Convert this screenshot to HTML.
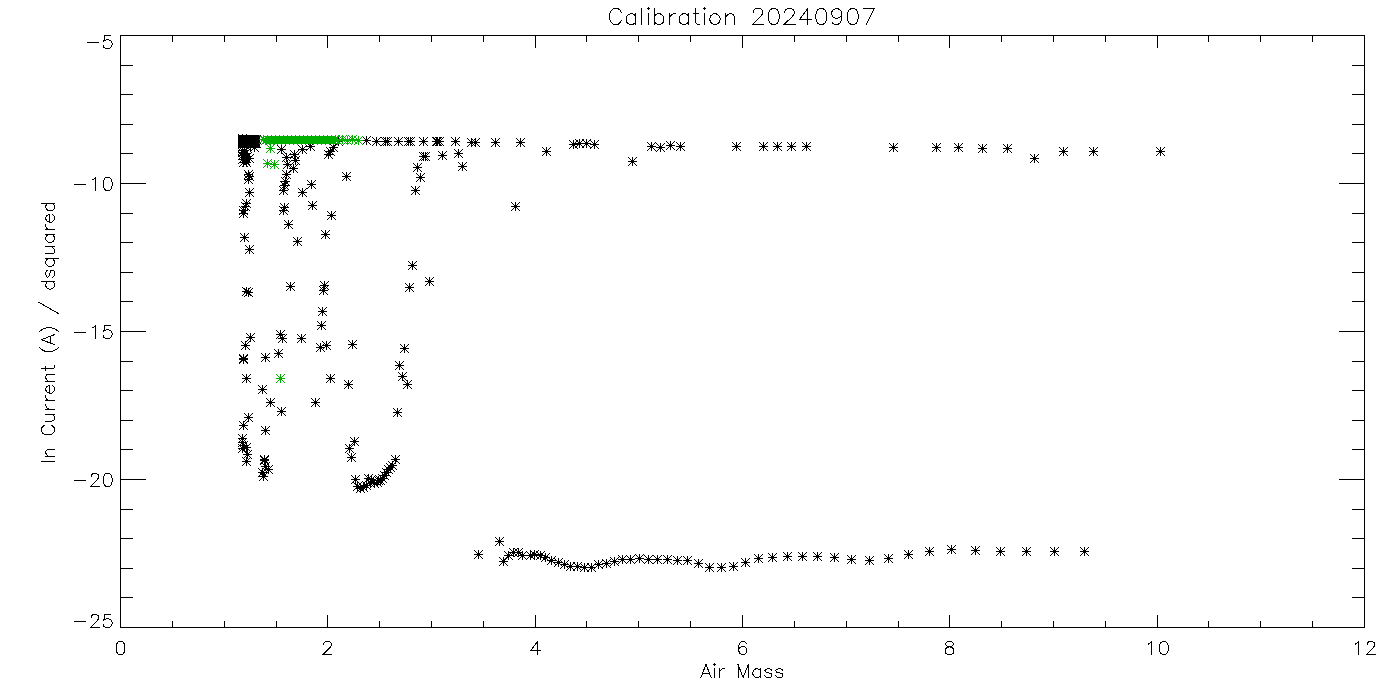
<!DOCTYPE html><html><head><meta charset="utf-8"><style>html,body{margin:0;padding:0;background:#fff;}svg{display:block;}</style></head><body>
<svg width="1400" height="700" viewBox="0 0 1400 700">
<rect width="1400" height="700" fill="#fff"/>
<path d="M120.5 35.5 H1364.5 V627.5 H120.5 Z M120.5 627.5 v-13 M120.5 35.5 v12 M172.5 627.5 v-7 M172.5 35.5 v6 M224.5 627.5 v-7 M224.5 35.5 v6 M276.5 627.5 v-7 M276.5 35.5 v6 M327.5 627.5 v-13 M327.5 35.5 v12 M379.5 627.5 v-7 M379.5 35.5 v6 M431.5 627.5 v-7 M431.5 35.5 v6 M483.5 627.5 v-7 M483.5 35.5 v6 M535.5 627.5 v-13 M535.5 35.5 v12 M586.5 627.5 v-7 M586.5 35.5 v6 M638.5 627.5 v-7 M638.5 35.5 v6 M690.5 627.5 v-7 M690.5 35.5 v6 M742.5 627.5 v-13 M742.5 35.5 v12 M794.5 627.5 v-7 M794.5 35.5 v6 M846.5 627.5 v-7 M846.5 35.5 v6 M898.5 627.5 v-7 M898.5 35.5 v6 M949.5 627.5 v-13 M949.5 35.5 v12 M1001.5 627.5 v-7 M1001.5 35.5 v6 M1053.5 627.5 v-7 M1053.5 35.5 v6 M1105.5 627.5 v-7 M1105.5 35.5 v6 M1157.5 627.5 v-13 M1157.5 35.5 v12 M1208.5 627.5 v-7 M1208.5 35.5 v6 M1260.5 627.5 v-7 M1260.5 35.5 v6 M1312.5 627.5 v-7 M1312.5 35.5 v6 M1364.5 627.5 v-13 M1364.5 35.5 v12 M120.5 627.5 h25 M1364.5 627.5 h-26 M120.5 597.5 h12 M1364.5 597.5 h-13 M120.5 568.5 h12 M1364.5 568.5 h-13 M120.5 538.5 h12 M1364.5 538.5 h-13 M120.5 509.5 h12 M1364.5 509.5 h-13 M120.5 479.5 h25 M1364.5 479.5 h-26 M120.5 449.5 h12 M1364.5 449.5 h-13 M120.5 420.5 h12 M1364.5 420.5 h-13 M120.5 390.5 h12 M1364.5 390.5 h-13 M120.5 361.5 h12 M1364.5 361.5 h-13 M120.5 331.5 h25 M1364.5 331.5 h-26 M120.5 301.5 h12 M1364.5 301.5 h-13 M120.5 272.5 h12 M1364.5 272.5 h-13 M120.5 242.5 h12 M1364.5 242.5 h-13 M120.5 213.5 h12 M1364.5 213.5 h-13 M120.5 183.5 h25 M1364.5 183.5 h-26 M120.5 153.5 h12 M1364.5 153.5 h-13 M120.5 124.5 h12 M1364.5 124.5 h-13 M120.5 94.5 h12 M1364.5 94.5 h-13 M120.5 65.5 h12 M1364.5 65.5 h-13 M120.5 35.5 h25 M1364.5 35.5 h-26" stroke="#000" stroke-width="1" fill="none" shape-rendering="crispEdges"/>
<path d="M119.86 641.48 L117.94 642.10 L116.66 643.96 L116.02 647.06 L116.02 648.92 L116.66 652.02 L117.94 653.88 L119.86 654.50 L121.14 654.50 L123.06 653.88 L124.34 652.02 L124.98 648.92 L124.98 647.06 L124.34 643.96 L123.06 642.10 L121.14 641.48 L119.86 641.48 M323.66 644.58 L323.66 643.96 L324.30 642.72 L324.94 642.10 L326.22 641.48 L328.78 641.48 L330.06 642.10 L330.70 642.72 L331.34 643.96 L331.34 645.20 L330.70 646.44 L329.42 648.30 L323.02 654.50 L331.98 654.50 M537.42 641.48 L531.02 650.16 L540.62 650.16 M537.42 641.48 L537.42 654.50 M746.34 643.34 L745.70 642.10 L743.78 641.48 L742.50 641.48 L740.58 642.10 L739.30 643.96 L738.66 647.06 L738.66 650.16 L739.30 652.64 L740.58 653.88 L742.50 654.50 L743.14 654.50 L745.06 653.88 L746.34 652.64 L746.98 650.78 L746.98 650.16 L746.34 648.30 L745.06 647.06 L743.14 646.44 L742.50 646.44 L740.58 647.06 L739.30 648.30 L738.66 650.16 M948.22 641.48 L946.30 642.10 L945.66 643.34 L945.66 644.58 L946.30 645.82 L947.58 646.44 L950.14 647.06 L952.06 647.68 L953.34 648.92 L953.98 650.16 L953.98 652.02 L953.34 653.26 L952.70 653.88 L950.78 654.50 L948.22 654.50 L946.30 653.88 L945.66 653.26 L945.02 652.02 L945.02 650.16 L945.66 648.92 L946.94 647.68 L948.86 647.06 L951.42 646.44 L952.70 645.82 L953.34 644.58 L953.34 643.34 L952.70 642.10 L950.78 641.48 L948.22 641.48 M1148.54 643.96 L1149.82 643.34 L1151.74 641.48 L1151.74 654.50 M1163.26 641.48 L1161.34 642.10 L1160.06 643.96 L1159.42 647.06 L1159.42 648.92 L1160.06 652.02 L1161.34 653.88 L1163.26 654.50 L1164.54 654.50 L1166.46 653.88 L1167.74 652.02 L1168.38 648.92 L1168.38 647.06 L1167.74 643.96 L1166.46 642.10 L1164.54 641.48 L1163.26 641.48 M1355.54 643.96 L1356.82 643.34 L1358.74 641.48 L1358.74 654.50 M1367.06 644.58 L1367.06 643.96 L1367.70 642.72 L1368.34 642.10 L1369.62 641.48 L1372.18 641.48 L1373.46 642.10 L1374.10 642.72 L1374.74 643.96 L1374.74 645.20 L1374.10 646.44 L1372.82 648.30 L1366.42 654.50 L1375.38 654.50 M74.42 621.92 L85.94 621.92 M91.06 617.58 L91.06 616.96 L91.70 615.72 L92.34 615.10 L93.62 614.48 L96.18 614.48 L97.46 615.10 L98.10 615.72 L98.74 616.96 L98.74 618.20 L98.10 619.44 L96.82 621.30 L90.42 627.50 L99.38 627.50 M110.90 614.48 L104.50 614.48 L103.86 620.06 L104.50 619.44 L106.42 618.82 L108.34 618.82 L110.26 619.44 L111.54 620.68 L112.18 622.54 L112.18 623.78 L111.54 625.64 L110.26 626.88 L108.34 627.50 L106.42 627.50 L104.50 626.88 L103.86 626.26 L103.22 625.02 M74.42 480.92 L85.94 480.92 M91.06 476.58 L91.06 475.96 L91.70 474.72 L92.34 474.10 L93.62 473.48 L96.18 473.48 L97.46 474.10 L98.10 474.72 L98.74 475.96 L98.74 477.20 L98.10 478.44 L96.82 480.30 L90.42 486.50 L99.38 486.50 M107.06 473.48 L105.14 474.10 L103.86 475.96 L103.22 479.06 L103.22 480.92 L103.86 484.02 L105.14 485.88 L107.06 486.50 L108.34 486.50 L110.26 485.88 L111.54 484.02 L112.18 480.92 L112.18 479.06 L111.54 475.96 L110.26 474.10 L108.34 473.48 L107.06 473.48 M74.42 332.92 L85.94 332.92 M92.34 327.96 L93.62 327.34 L95.54 325.48 L95.54 338.50 M110.90 325.48 L104.50 325.48 L103.86 331.06 L104.50 330.44 L106.42 329.82 L108.34 329.82 L110.26 330.44 L111.54 331.68 L112.18 333.54 L112.18 334.78 L111.54 336.64 L110.26 337.88 L108.34 338.50 L106.42 338.50 L104.50 337.88 L103.86 337.26 L103.22 336.02 M74.42 184.92 L85.94 184.92 M92.34 179.96 L93.62 179.34 L95.54 177.48 L95.54 190.50 M107.06 177.48 L105.14 178.10 L103.86 179.96 L103.22 183.06 L103.22 184.92 L103.86 188.02 L105.14 189.88 L107.06 190.50 L108.34 190.50 L110.26 189.88 L111.54 188.02 L112.18 184.92 L112.18 183.06 L111.54 179.96 L110.26 178.10 L108.34 177.48 L107.06 177.48 M87.22 42.92 L98.74 42.92 M110.90 35.48 L104.50 35.48 L103.86 41.06 L104.50 40.44 L106.42 39.82 L108.34 39.82 L110.26 40.44 L111.54 41.68 L112.18 43.54 L112.18 44.78 L111.54 46.64 L110.26 47.88 L108.34 48.50 L106.42 48.50 L104.50 47.88 L103.86 47.26 L103.22 46.02 M621.32 12.31 L620.53 10.78 L618.95 9.26 L617.38 8.50 L614.21 8.50 L612.63 9.26 L611.05 10.78 L610.26 12.31 L609.47 14.59 L609.47 18.40 L610.26 20.69 L611.05 22.21 L612.63 23.74 L614.21 24.50 L617.38 24.50 L618.95 23.74 L620.53 22.21 L621.32 20.69 M635.54 13.83 L635.54 24.50 M635.54 16.12 L633.96 14.59 L632.38 13.83 L630.01 13.83 L628.43 14.59 L626.85 16.12 L626.06 18.40 L626.06 19.93 L626.85 22.21 L628.43 23.74 L630.01 24.50 L632.38 24.50 L633.96 23.74 L635.54 22.21 M641.87 8.50 L641.87 24.50 M647.39 8.50 L648.18 9.26 L648.97 8.50 L648.18 7.74 L647.39 8.50 M648.18 13.83 L648.18 24.50 M654.50 8.50 L654.50 24.50 M654.50 16.12 L656.08 14.59 L657.66 13.83 L660.03 13.83 L661.62 14.59 L663.19 16.12 L663.98 18.40 L663.98 19.93 L663.19 22.21 L661.62 23.74 L660.03 24.50 L657.66 24.50 L656.08 23.74 L654.50 22.21 M669.51 13.83 L669.51 24.50 M669.51 18.40 L670.30 16.12 L671.88 14.59 L673.46 13.83 L675.83 13.83 M688.47 13.83 L688.47 24.50 M688.47 16.12 L686.89 14.59 L685.31 13.83 L682.94 13.83 L681.37 14.59 L679.78 16.12 L679.00 18.40 L679.00 19.93 L679.78 22.21 L681.37 23.74 L682.94 24.50 L685.31 24.50 L686.89 23.74 L688.47 22.21 M695.58 8.50 L695.58 21.45 L696.38 23.74 L697.95 24.50 L699.53 24.50 M693.21 13.83 L698.75 13.83 M703.48 8.50 L704.27 9.26 L705.06 8.50 L704.27 7.74 L703.48 8.50 M704.27 13.83 L704.27 24.50 M713.75 13.83 L712.17 14.59 L710.59 16.12 L709.80 18.40 L709.80 19.93 L710.59 22.21 L712.17 23.74 L713.75 24.50 L716.12 24.50 L717.70 23.74 L719.28 22.21 L720.07 19.93 L720.07 18.40 L719.28 16.12 L717.70 14.59 L716.12 13.83 L713.75 13.83 M725.60 13.83 L725.60 24.50 M725.60 16.88 L727.97 14.59 L729.55 13.83 L731.92 13.83 L733.50 14.59 L734.29 16.88 L734.29 24.50 M753.25 12.31 L753.25 11.55 L754.04 10.02 L754.83 9.26 L756.41 8.50 L759.57 8.50 L761.15 9.26 L761.94 10.02 L762.73 11.55 L762.73 13.07 L761.94 14.59 L760.37 16.88 L752.46 24.50 L763.52 24.50 M773.00 8.50 L770.63 9.26 L769.05 11.55 L768.26 15.36 L768.26 17.64 L769.05 21.45 L770.63 23.74 L773.00 24.50 L774.58 24.50 L776.95 23.74 L778.53 21.45 L779.32 17.64 L779.32 15.36 L778.53 11.55 L776.95 9.26 L774.58 8.50 L773.00 8.50 M784.85 12.31 L784.85 11.55 L785.64 10.02 L786.43 9.26 L788.01 8.50 L791.17 8.50 L792.75 9.26 L793.54 10.02 L794.33 11.55 L794.33 13.07 L793.54 14.59 L791.96 16.88 L784.06 24.50 L795.12 24.50 M807.76 8.50 L799.87 19.17 L811.71 19.17 M807.76 8.50 L807.76 24.50 M820.40 8.50 L818.03 9.26 L816.45 11.55 L815.66 15.36 L815.66 17.64 L816.45 21.45 L818.03 23.74 L820.40 24.50 L821.98 24.50 L824.36 23.74 L825.93 21.45 L826.72 17.64 L826.72 15.36 L825.93 11.55 L824.36 9.26 L821.98 8.50 L820.40 8.50 M841.73 13.83 L840.94 16.12 L839.37 17.64 L837.00 18.40 L836.20 18.40 L833.83 17.64 L832.25 16.12 L831.46 13.83 L831.46 13.07 L832.25 10.78 L833.83 9.26 L836.20 8.50 L837.00 8.50 L839.37 9.26 L840.94 10.78 L841.73 13.83 L841.73 17.64 L840.94 21.45 L839.37 23.74 L837.00 24.50 L835.41 24.50 L833.04 23.74 L832.25 22.21 M852.00 8.50 L849.63 9.26 L848.05 11.55 L847.26 15.36 L847.26 17.64 L848.05 21.45 L849.63 23.74 L852.00 24.50 L853.58 24.50 L855.95 23.74 L857.53 21.45 L858.32 17.64 L858.32 15.36 L857.53 11.55 L855.95 9.26 L853.58 8.50 L852.00 8.50 M874.12 8.50 L866.22 24.50 M863.06 8.50 L874.12 8.50 M706.02 664.48 L700.90 677.50 M706.02 664.48 L711.14 677.50 M702.82 673.16 L709.22 673.16 M713.70 664.48 L714.34 665.10 L714.98 664.48 L714.34 663.86 L713.70 664.48 M714.34 668.82 L714.34 677.50 M719.46 668.82 L719.46 677.50 M719.46 672.54 L720.10 670.68 L721.38 669.44 L722.66 668.82 L724.58 668.82 M738.02 664.48 L738.02 677.50 M738.02 664.48 L743.14 677.50 M748.26 664.48 L743.14 677.50 M748.26 664.48 L748.26 677.50 M760.42 668.82 L760.42 677.50 M760.42 670.68 L759.14 669.44 L757.86 668.82 L755.94 668.82 L754.66 669.44 L753.38 670.68 L752.74 672.54 L752.74 673.78 L753.38 675.64 L754.66 676.88 L755.94 677.50 L757.86 677.50 L759.14 676.88 L760.42 675.64 M771.94 670.68 L771.30 669.44 L769.38 668.82 L767.46 668.82 L765.54 669.44 L764.90 670.68 L765.54 671.92 L766.82 672.54 L770.02 673.16 L771.30 673.78 L771.94 675.02 L771.94 675.64 L771.30 676.88 L769.38 677.50 L767.46 677.50 L765.54 676.88 L764.90 675.64 M782.82 670.68 L782.18 669.44 L780.26 668.82 L778.34 668.82 L776.42 669.44 L775.78 670.68 L776.42 671.92 L777.70 672.54 L780.90 673.16 L782.18 673.78 L782.82 675.02 L782.82 675.64 L782.18 676.88 L780.26 677.50 L778.34 677.50 L776.42 676.88 L775.78 675.64 M41.48 461.44 L54.50 461.44 M45.82 456.39 L54.50 456.39 M48.30 456.39 L46.44 454.50 L45.82 453.24 L45.82 451.34 L46.44 450.08 L48.30 449.45 L54.50 449.45 M44.58 425.47 L43.34 426.10 L42.10 427.37 L41.48 428.63 L41.48 431.15 L42.10 432.41 L43.34 433.68 L44.58 434.31 L46.44 434.94 L49.54 434.94 L51.40 434.31 L52.64 433.68 L53.88 432.41 L54.50 431.15 L54.50 428.63 L53.88 427.37 L52.64 426.10 L51.40 425.47 M45.82 421.06 L52.02 421.06 L53.88 420.42 L54.50 419.16 L54.50 417.27 L53.88 416.01 L52.02 414.11 M45.82 414.11 L54.50 414.11 M45.82 409.07 L54.50 409.07 M49.54 409.07 L47.68 408.44 L46.44 407.17 L45.82 405.91 L45.82 404.02 M45.82 400.86 L54.50 400.86 M49.54 400.86 L47.68 400.23 L46.44 398.97 L45.82 397.71 L45.82 395.82 M49.54 393.29 L49.54 385.72 L48.30 385.72 L47.06 386.35 L46.44 386.98 L45.82 388.24 L45.82 390.14 L46.44 391.40 L47.68 392.66 L49.54 393.29 L50.78 393.29 L52.64 392.66 L53.88 391.40 L54.50 390.14 L54.50 388.24 L53.88 386.98 L52.64 385.72 M45.82 381.30 L54.50 381.30 M48.30 381.30 L46.44 379.41 L45.82 378.15 L45.82 376.25 L46.44 374.99 L48.30 374.36 L54.50 374.36 M41.48 368.68 L52.02 368.68 L53.88 368.05 L54.50 366.79 L54.50 365.53 M45.82 370.58 L45.82 366.16 M39.00 347.23 L40.24 348.49 L42.10 349.75 L44.58 351.01 L47.68 351.65 L50.16 351.65 L53.26 351.01 L55.74 349.75 L57.60 348.49 L58.84 347.23 M41.48 339.66 L54.50 344.70 M41.48 339.66 L54.50 334.61 M50.16 342.81 L50.16 336.50 M39.00 332.08 L40.24 330.82 L42.10 329.56 L44.58 328.30 L47.68 327.67 L50.16 327.67 L53.26 328.30 L55.74 329.56 L57.60 330.82 L58.84 332.08 M39.00 302.43 L58.84 313.79 M41.48 281.60 L54.50 281.60 M47.68 281.60 L46.44 282.87 L45.82 284.13 L45.82 286.02 L46.44 287.28 L47.68 288.55 L49.54 289.18 L50.78 289.18 L52.64 288.55 L53.88 287.28 L54.50 286.02 L54.50 284.13 L53.88 282.87 L52.64 281.60 M47.68 270.25 L46.44 270.88 L45.82 272.77 L45.82 274.66 L46.44 276.56 L47.68 277.19 L48.92 276.56 L49.54 275.29 L50.16 272.14 L50.78 270.88 L52.02 270.25 L52.64 270.25 L53.88 270.88 L54.50 272.77 L54.50 274.66 L53.88 276.56 L52.64 277.19 M45.82 258.89 L58.84 258.89 M47.68 258.89 L46.44 260.15 L45.82 261.41 L45.82 263.31 L46.44 264.57 L47.68 265.83 L49.54 266.46 L50.78 266.46 L52.64 265.83 L53.88 264.57 L54.50 263.31 L54.50 261.41 L53.88 260.15 L52.64 258.89 M45.82 253.84 L52.02 253.84 L53.88 253.21 L54.50 251.95 L54.50 250.05 L53.88 248.79 L52.02 246.90 M45.82 246.90 L54.50 246.90 M45.82 234.91 L54.50 234.91 M47.68 234.91 L46.44 236.17 L45.82 237.43 L45.82 239.33 L46.44 240.59 L47.68 241.85 L49.54 242.48 L50.78 242.48 L52.64 241.85 L53.88 240.59 L54.50 239.33 L54.50 237.43 L53.88 236.17 L52.64 234.91 M45.82 229.86 L54.50 229.86 M49.54 229.86 L47.68 229.23 L46.44 227.97 L45.82 226.71 L45.82 224.81 M49.54 222.29 L49.54 214.72 L48.30 214.72 L47.06 215.35 L46.44 215.98 L45.82 217.24 L45.82 219.14 L46.44 220.40 L47.68 221.66 L49.54 222.29 L50.78 222.29 L52.64 221.66 L53.88 220.40 L54.50 219.14 L54.50 217.24 L53.88 215.98 L52.64 214.72 M41.48 203.36 L54.50 203.36 M47.68 203.36 L46.44 204.62 L45.82 205.88 L45.82 207.78 L46.44 209.04 L47.68 210.30 L49.54 210.93 L50.78 210.93 L52.64 210.30 L53.88 209.04 L54.50 207.78 L54.50 205.88 L53.88 204.62 L52.64 203.36" stroke="#000" stroke-width="1" fill="none" stroke-linecap="square" shape-rendering="crispEdges"/>
<rect x="238" y="135" width="22" height="13" fill="#000"/>
<path d="M787 146h9v1h-9zM791 142h1v9h-1zM787 142h1v1h-1zM787 150h1v1h-1zM788 143h1v1h-1zM788 149h1v1h-1zM789 144h1v1h-1zM789 148h1v1h-1zM790 145h1v1h-1zM790 147h1v1h-1zM792 147h1v1h-1zM792 145h1v1h-1zM793 148h1v1h-1zM793 144h1v1h-1zM794 149h1v1h-1zM794 143h1v1h-1zM795 150h1v1h-1zM795 142h1v1h-1zM802 146h9v1h-9zM806 142h1v9h-1zM802 142h1v1h-1zM802 150h1v1h-1zM803 143h1v1h-1zM803 149h1v1h-1zM804 144h1v1h-1zM804 148h1v1h-1zM805 145h1v1h-1zM805 147h1v1h-1zM807 147h1v1h-1zM807 145h1v1h-1zM808 148h1v1h-1zM808 144h1v1h-1zM809 149h1v1h-1zM809 143h1v1h-1zM810 150h1v1h-1zM810 142h1v1h-1zM889 147h9v1h-9zM893 143h1v9h-1zM889 143h1v1h-1zM889 151h1v1h-1zM890 144h1v1h-1zM890 150h1v1h-1zM891 145h1v1h-1zM891 149h1v1h-1zM892 146h1v1h-1zM892 148h1v1h-1zM894 148h1v1h-1zM894 146h1v1h-1zM895 149h1v1h-1zM895 145h1v1h-1zM896 150h1v1h-1zM896 144h1v1h-1zM897 151h1v1h-1zM897 143h1v1h-1zM932 147h9v1h-9zM936 143h1v9h-1zM932 143h1v1h-1zM932 151h1v1h-1zM933 144h1v1h-1zM933 150h1v1h-1zM934 145h1v1h-1zM934 149h1v1h-1zM935 146h1v1h-1zM935 148h1v1h-1zM937 148h1v1h-1zM937 146h1v1h-1zM938 149h1v1h-1zM938 145h1v1h-1zM939 150h1v1h-1zM939 144h1v1h-1zM940 151h1v1h-1zM940 143h1v1h-1zM954 147h9v1h-9zM958 143h1v9h-1zM954 143h1v1h-1zM954 151h1v1h-1zM955 144h1v1h-1zM955 150h1v1h-1zM956 145h1v1h-1zM956 149h1v1h-1zM957 146h1v1h-1zM957 148h1v1h-1zM959 148h1v1h-1zM959 146h1v1h-1zM960 149h1v1h-1zM960 145h1v1h-1zM961 150h1v1h-1zM961 144h1v1h-1zM962 151h1v1h-1zM962 143h1v1h-1zM978 148h9v1h-9zM982 144h1v9h-1zM978 144h1v1h-1zM978 152h1v1h-1zM979 145h1v1h-1zM979 151h1v1h-1zM980 146h1v1h-1zM980 150h1v1h-1zM981 147h1v1h-1zM981 149h1v1h-1zM983 149h1v1h-1zM983 147h1v1h-1zM984 150h1v1h-1zM984 146h1v1h-1zM985 151h1v1h-1zM985 145h1v1h-1zM986 152h1v1h-1zM986 144h1v1h-1zM1003 148h9v1h-9zM1007 144h1v9h-1zM1003 144h1v1h-1zM1003 152h1v1h-1zM1004 145h1v1h-1zM1004 151h1v1h-1zM1005 146h1v1h-1zM1005 150h1v1h-1zM1006 147h1v1h-1zM1006 149h1v1h-1zM1008 149h1v1h-1zM1008 147h1v1h-1zM1009 150h1v1h-1zM1009 146h1v1h-1zM1010 151h1v1h-1zM1010 145h1v1h-1zM1011 152h1v1h-1zM1011 144h1v1h-1zM1030 158h9v1h-9zM1034 154h1v9h-1zM1030 154h1v1h-1zM1030 162h1v1h-1zM1031 155h1v1h-1zM1031 161h1v1h-1zM1032 156h1v1h-1zM1032 160h1v1h-1zM1033 157h1v1h-1zM1033 159h1v1h-1zM1035 159h1v1h-1zM1035 157h1v1h-1zM1036 160h1v1h-1zM1036 156h1v1h-1zM1037 161h1v1h-1zM1037 155h1v1h-1zM1038 162h1v1h-1zM1038 154h1v1h-1zM1059 151h9v1h-9zM1063 147h1v9h-1zM1059 147h1v1h-1zM1059 155h1v1h-1zM1060 148h1v1h-1zM1060 154h1v1h-1zM1061 149h1v1h-1zM1061 153h1v1h-1zM1062 150h1v1h-1zM1062 152h1v1h-1zM1064 152h1v1h-1zM1064 150h1v1h-1zM1065 153h1v1h-1zM1065 149h1v1h-1zM1066 154h1v1h-1zM1066 148h1v1h-1zM1067 155h1v1h-1zM1067 147h1v1h-1zM1089 151h9v1h-9zM1093 147h1v9h-1zM1089 147h1v1h-1zM1089 155h1v1h-1zM1090 148h1v1h-1zM1090 154h1v1h-1zM1091 149h1v1h-1zM1091 153h1v1h-1zM1092 150h1v1h-1zM1092 152h1v1h-1zM1094 152h1v1h-1zM1094 150h1v1h-1zM1095 153h1v1h-1zM1095 149h1v1h-1zM1096 154h1v1h-1zM1096 148h1v1h-1zM1097 155h1v1h-1zM1097 147h1v1h-1zM1156 151h9v1h-9zM1160 147h1v9h-1zM1156 147h1v1h-1zM1156 155h1v1h-1zM1157 148h1v1h-1zM1157 154h1v1h-1zM1158 149h1v1h-1zM1158 153h1v1h-1zM1159 150h1v1h-1zM1159 152h1v1h-1zM1161 152h1v1h-1zM1161 150h1v1h-1zM1162 153h1v1h-1zM1162 149h1v1h-1zM1163 154h1v1h-1zM1163 148h1v1h-1zM1164 155h1v1h-1zM1164 147h1v1h-1zM628 161h9v1h-9zM632 157h1v9h-1zM628 157h1v1h-1zM628 165h1v1h-1zM629 158h1v1h-1zM629 164h1v1h-1zM630 159h1v1h-1zM630 163h1v1h-1zM631 160h1v1h-1zM631 162h1v1h-1zM633 162h1v1h-1zM633 160h1v1h-1zM634 163h1v1h-1zM634 159h1v1h-1zM635 164h1v1h-1zM635 158h1v1h-1zM636 165h1v1h-1zM636 157h1v1h-1zM647 146h9v1h-9zM651 142h1v9h-1zM647 142h1v1h-1zM647 150h1v1h-1zM648 143h1v1h-1zM648 149h1v1h-1zM649 144h1v1h-1zM649 148h1v1h-1zM650 145h1v1h-1zM650 147h1v1h-1zM652 147h1v1h-1zM652 145h1v1h-1zM653 148h1v1h-1zM653 144h1v1h-1zM654 149h1v1h-1zM654 143h1v1h-1zM655 150h1v1h-1zM655 142h1v1h-1zM656 147h9v1h-9zM660 143h1v9h-1zM656 143h1v1h-1zM656 151h1v1h-1zM657 144h1v1h-1zM657 150h1v1h-1zM658 145h1v1h-1zM658 149h1v1h-1zM659 146h1v1h-1zM659 148h1v1h-1zM661 148h1v1h-1zM661 146h1v1h-1zM662 149h1v1h-1zM662 145h1v1h-1zM663 150h1v1h-1zM663 144h1v1h-1zM664 151h1v1h-1zM664 143h1v1h-1zM666 145h9v1h-9zM670 141h1v9h-1zM666 141h1v1h-1zM666 149h1v1h-1zM667 142h1v1h-1zM667 148h1v1h-1zM668 143h1v1h-1zM668 147h1v1h-1zM669 144h1v1h-1zM669 146h1v1h-1zM671 146h1v1h-1zM671 144h1v1h-1zM672 147h1v1h-1zM672 143h1v1h-1zM673 148h1v1h-1zM673 142h1v1h-1zM674 149h1v1h-1zM674 141h1v1h-1zM676 146h9v1h-9zM680 142h1v9h-1zM676 142h1v1h-1zM676 150h1v1h-1zM677 143h1v1h-1zM677 149h1v1h-1zM678 144h1v1h-1zM678 148h1v1h-1zM679 145h1v1h-1zM679 147h1v1h-1zM681 147h1v1h-1zM681 145h1v1h-1zM682 148h1v1h-1zM682 144h1v1h-1zM683 149h1v1h-1zM683 143h1v1h-1zM684 150h1v1h-1zM684 142h1v1h-1zM732 146h9v1h-9zM736 142h1v9h-1zM732 142h1v1h-1zM732 150h1v1h-1zM733 143h1v1h-1zM733 149h1v1h-1zM734 144h1v1h-1zM734 148h1v1h-1zM735 145h1v1h-1zM735 147h1v1h-1zM737 147h1v1h-1zM737 145h1v1h-1zM738 148h1v1h-1zM738 144h1v1h-1zM739 149h1v1h-1zM739 143h1v1h-1zM740 150h1v1h-1zM740 142h1v1h-1zM759 146h9v1h-9zM763 142h1v9h-1zM759 142h1v1h-1zM759 150h1v1h-1zM760 143h1v1h-1zM760 149h1v1h-1zM761 144h1v1h-1zM761 148h1v1h-1zM762 145h1v1h-1zM762 147h1v1h-1zM764 147h1v1h-1zM764 145h1v1h-1zM765 148h1v1h-1zM765 144h1v1h-1zM766 149h1v1h-1zM766 143h1v1h-1zM767 150h1v1h-1zM767 142h1v1h-1zM773 146h9v1h-9zM777 142h1v9h-1zM773 142h1v1h-1zM773 150h1v1h-1zM774 143h1v1h-1zM774 149h1v1h-1zM775 144h1v1h-1zM775 148h1v1h-1zM776 145h1v1h-1zM776 147h1v1h-1zM778 147h1v1h-1zM778 145h1v1h-1zM779 148h1v1h-1zM779 144h1v1h-1zM780 149h1v1h-1zM780 143h1v1h-1zM781 150h1v1h-1zM781 142h1v1h-1zM569 144h9v1h-9zM573 140h1v9h-1zM569 140h1v1h-1zM569 148h1v1h-1zM570 141h1v1h-1zM570 147h1v1h-1zM571 142h1v1h-1zM571 146h1v1h-1zM572 143h1v1h-1zM572 145h1v1h-1zM574 145h1v1h-1zM574 143h1v1h-1zM575 146h1v1h-1zM575 142h1v1h-1zM576 147h1v1h-1zM576 141h1v1h-1zM577 148h1v1h-1zM577 140h1v1h-1zM575 143h9v1h-9zM579 139h1v9h-1zM575 139h1v1h-1zM575 147h1v1h-1zM576 140h1v1h-1zM576 146h1v1h-1zM577 141h1v1h-1zM577 145h1v1h-1zM578 142h1v1h-1zM578 144h1v1h-1zM580 144h1v1h-1zM580 142h1v1h-1zM581 145h1v1h-1zM581 141h1v1h-1zM582 146h1v1h-1zM582 140h1v1h-1zM583 147h1v1h-1zM583 139h1v1h-1zM582 143h9v1h-9zM586 139h1v9h-1zM582 139h1v1h-1zM582 147h1v1h-1zM583 140h1v1h-1zM583 146h1v1h-1zM584 141h1v1h-1zM584 145h1v1h-1zM585 142h1v1h-1zM585 144h1v1h-1zM587 144h1v1h-1zM587 142h1v1h-1zM588 145h1v1h-1zM588 141h1v1h-1zM589 146h1v1h-1zM589 140h1v1h-1zM590 147h1v1h-1zM590 139h1v1h-1zM590 144h9v1h-9zM594 140h1v9h-1zM590 140h1v1h-1zM590 148h1v1h-1zM591 141h1v1h-1zM591 147h1v1h-1zM592 142h1v1h-1zM592 146h1v1h-1zM593 143h1v1h-1zM593 145h1v1h-1zM595 145h1v1h-1zM595 143h1v1h-1zM596 146h1v1h-1zM596 142h1v1h-1zM597 147h1v1h-1zM597 141h1v1h-1zM598 148h1v1h-1zM598 140h1v1h-1zM432 141h9v1h-9zM436 137h1v9h-1zM432 137h1v1h-1zM432 145h1v1h-1zM433 138h1v1h-1zM433 144h1v1h-1zM434 139h1v1h-1zM434 143h1v1h-1zM435 140h1v1h-1zM435 142h1v1h-1zM437 142h1v1h-1zM437 140h1v1h-1zM438 143h1v1h-1zM438 139h1v1h-1zM439 144h1v1h-1zM439 138h1v1h-1zM440 145h1v1h-1zM440 137h1v1h-1zM435 141h9v1h-9zM439 137h1v9h-1zM435 137h1v1h-1zM435 145h1v1h-1zM436 138h1v1h-1zM436 144h1v1h-1zM437 139h1v1h-1zM437 143h1v1h-1zM438 140h1v1h-1zM438 142h1v1h-1zM440 142h1v1h-1zM440 140h1v1h-1zM441 143h1v1h-1zM441 139h1v1h-1zM442 144h1v1h-1zM442 138h1v1h-1zM443 145h1v1h-1zM443 137h1v1h-1zM451 141h9v1h-9zM455 137h1v9h-1zM451 137h1v1h-1zM451 145h1v1h-1zM452 138h1v1h-1zM452 144h1v1h-1zM453 139h1v1h-1zM453 143h1v1h-1zM454 140h1v1h-1zM454 142h1v1h-1zM456 142h1v1h-1zM456 140h1v1h-1zM457 143h1v1h-1zM457 139h1v1h-1zM458 144h1v1h-1zM458 138h1v1h-1zM459 145h1v1h-1zM459 137h1v1h-1zM467 142h9v1h-9zM471 138h1v9h-1zM467 138h1v1h-1zM467 146h1v1h-1zM468 139h1v1h-1zM468 145h1v1h-1zM469 140h1v1h-1zM469 144h1v1h-1zM470 141h1v1h-1zM470 143h1v1h-1zM472 143h1v1h-1zM472 141h1v1h-1zM473 144h1v1h-1zM473 140h1v1h-1zM474 145h1v1h-1zM474 139h1v1h-1zM475 146h1v1h-1zM475 138h1v1h-1zM471 142h9v1h-9zM475 138h1v9h-1zM471 138h1v1h-1zM471 146h1v1h-1zM472 139h1v1h-1zM472 145h1v1h-1zM473 140h1v1h-1zM473 144h1v1h-1zM474 141h1v1h-1zM474 143h1v1h-1zM476 143h1v1h-1zM476 141h1v1h-1zM477 144h1v1h-1zM477 140h1v1h-1zM478 145h1v1h-1zM478 139h1v1h-1zM479 146h1v1h-1zM479 138h1v1h-1zM491 142h9v1h-9zM495 138h1v9h-1zM491 138h1v1h-1zM491 146h1v1h-1zM492 139h1v1h-1zM492 145h1v1h-1zM493 140h1v1h-1zM493 144h1v1h-1zM494 141h1v1h-1zM494 143h1v1h-1zM496 143h1v1h-1zM496 141h1v1h-1zM497 144h1v1h-1zM497 140h1v1h-1zM498 145h1v1h-1zM498 139h1v1h-1zM499 146h1v1h-1zM499 138h1v1h-1zM516 142h9v1h-9zM520 138h1v9h-1zM516 138h1v1h-1zM516 146h1v1h-1zM517 139h1v1h-1zM517 145h1v1h-1zM518 140h1v1h-1zM518 144h1v1h-1zM519 141h1v1h-1zM519 143h1v1h-1zM521 143h1v1h-1zM521 141h1v1h-1zM522 144h1v1h-1zM522 140h1v1h-1zM523 145h1v1h-1zM523 139h1v1h-1zM524 146h1v1h-1zM524 138h1v1h-1zM542 151h9v1h-9zM546 147h1v9h-1zM542 147h1v1h-1zM542 155h1v1h-1zM543 148h1v1h-1zM543 154h1v1h-1zM544 149h1v1h-1zM544 153h1v1h-1zM545 150h1v1h-1zM545 152h1v1h-1zM547 152h1v1h-1zM547 150h1v1h-1zM548 153h1v1h-1zM548 149h1v1h-1zM549 154h1v1h-1zM549 148h1v1h-1zM550 155h1v1h-1zM550 147h1v1h-1zM438 155h9v1h-9zM442 151h1v9h-1zM438 151h1v1h-1zM438 159h1v1h-1zM439 152h1v1h-1zM439 158h1v1h-1zM440 153h1v1h-1zM440 157h1v1h-1zM441 154h1v1h-1zM441 156h1v1h-1zM443 156h1v1h-1zM443 154h1v1h-1zM444 157h1v1h-1zM444 153h1v1h-1zM445 158h1v1h-1zM445 152h1v1h-1zM446 159h1v1h-1zM446 151h1v1h-1zM454 153h9v1h-9zM458 149h1v9h-1zM454 149h1v1h-1zM454 157h1v1h-1zM455 150h1v1h-1zM455 156h1v1h-1zM456 151h1v1h-1zM456 155h1v1h-1zM457 152h1v1h-1zM457 154h1v1h-1zM459 154h1v1h-1zM459 152h1v1h-1zM460 155h1v1h-1zM460 151h1v1h-1zM461 156h1v1h-1zM461 150h1v1h-1zM462 157h1v1h-1zM462 149h1v1h-1zM458 166h9v1h-9zM462 162h1v9h-1zM458 162h1v1h-1zM458 170h1v1h-1zM459 163h1v1h-1zM459 169h1v1h-1zM460 164h1v1h-1zM460 168h1v1h-1zM461 165h1v1h-1zM461 167h1v1h-1zM463 167h1v1h-1zM463 165h1v1h-1zM464 168h1v1h-1zM464 164h1v1h-1zM465 169h1v1h-1zM465 163h1v1h-1zM466 170h1v1h-1zM466 162h1v1h-1zM511 206h9v1h-9zM515 202h1v9h-1zM511 202h1v1h-1zM511 210h1v1h-1zM512 203h1v1h-1zM512 209h1v1h-1zM513 204h1v1h-1zM513 208h1v1h-1zM514 205h1v1h-1zM514 207h1v1h-1zM516 207h1v1h-1zM516 205h1v1h-1zM517 208h1v1h-1zM517 204h1v1h-1zM518 209h1v1h-1zM518 203h1v1h-1zM519 210h1v1h-1zM519 202h1v1h-1zM362 140h9v1h-9zM366 136h1v9h-1zM362 136h1v1h-1zM362 144h1v1h-1zM363 137h1v1h-1zM363 143h1v1h-1zM364 138h1v1h-1zM364 142h1v1h-1zM365 139h1v1h-1zM365 141h1v1h-1zM367 141h1v1h-1zM367 139h1v1h-1zM368 142h1v1h-1zM368 138h1v1h-1zM369 143h1v1h-1zM369 137h1v1h-1zM370 144h1v1h-1zM370 136h1v1h-1zM372 141h9v1h-9zM376 137h1v9h-1zM372 137h1v1h-1zM372 145h1v1h-1zM373 138h1v1h-1zM373 144h1v1h-1zM374 139h1v1h-1zM374 143h1v1h-1zM375 140h1v1h-1zM375 142h1v1h-1zM377 142h1v1h-1zM377 140h1v1h-1zM378 143h1v1h-1zM378 139h1v1h-1zM379 144h1v1h-1zM379 138h1v1h-1zM380 145h1v1h-1zM380 137h1v1h-1zM381 141h9v1h-9zM385 137h1v9h-1zM381 137h1v1h-1zM381 145h1v1h-1zM382 138h1v1h-1zM382 144h1v1h-1zM383 139h1v1h-1zM383 143h1v1h-1zM384 140h1v1h-1zM384 142h1v1h-1zM386 142h1v1h-1zM386 140h1v1h-1zM387 143h1v1h-1zM387 139h1v1h-1zM388 144h1v1h-1zM388 138h1v1h-1zM389 145h1v1h-1zM389 137h1v1h-1zM383 141h9v1h-9zM387 137h1v9h-1zM383 137h1v1h-1zM383 145h1v1h-1zM384 138h1v1h-1zM384 144h1v1h-1zM385 139h1v1h-1zM385 143h1v1h-1zM386 140h1v1h-1zM386 142h1v1h-1zM388 142h1v1h-1zM388 140h1v1h-1zM389 143h1v1h-1zM389 139h1v1h-1zM390 144h1v1h-1zM390 138h1v1h-1zM391 145h1v1h-1zM391 137h1v1h-1zM394 141h9v1h-9zM398 137h1v9h-1zM394 137h1v1h-1zM394 145h1v1h-1zM395 138h1v1h-1zM395 144h1v1h-1zM396 139h1v1h-1zM396 143h1v1h-1zM397 140h1v1h-1zM397 142h1v1h-1zM399 142h1v1h-1zM399 140h1v1h-1zM400 143h1v1h-1zM400 139h1v1h-1zM401 144h1v1h-1zM401 138h1v1h-1zM402 145h1v1h-1zM402 137h1v1h-1zM404 141h9v1h-9zM408 137h1v9h-1zM404 137h1v1h-1zM404 145h1v1h-1zM405 138h1v1h-1zM405 144h1v1h-1zM406 139h1v1h-1zM406 143h1v1h-1zM407 140h1v1h-1zM407 142h1v1h-1zM409 142h1v1h-1zM409 140h1v1h-1zM410 143h1v1h-1zM410 139h1v1h-1zM411 144h1v1h-1zM411 138h1v1h-1zM412 145h1v1h-1zM412 137h1v1h-1zM406 141h9v1h-9zM410 137h1v9h-1zM406 137h1v1h-1zM406 145h1v1h-1zM407 138h1v1h-1zM407 144h1v1h-1zM408 139h1v1h-1zM408 143h1v1h-1zM409 140h1v1h-1zM409 142h1v1h-1zM411 142h1v1h-1zM411 140h1v1h-1zM412 143h1v1h-1zM412 139h1v1h-1zM413 144h1v1h-1zM413 138h1v1h-1zM414 145h1v1h-1zM414 137h1v1h-1zM419 141h9v1h-9zM423 137h1v9h-1zM419 137h1v1h-1zM419 145h1v1h-1zM420 138h1v1h-1zM420 144h1v1h-1zM421 139h1v1h-1zM421 143h1v1h-1zM422 140h1v1h-1zM422 142h1v1h-1zM424 142h1v1h-1zM424 140h1v1h-1zM425 143h1v1h-1zM425 139h1v1h-1zM426 144h1v1h-1zM426 138h1v1h-1zM427 145h1v1h-1zM427 137h1v1h-1zM433 141h9v1h-9zM437 137h1v9h-1zM433 137h1v1h-1zM433 145h1v1h-1zM434 138h1v1h-1zM434 144h1v1h-1zM435 139h1v1h-1zM435 143h1v1h-1zM436 140h1v1h-1zM436 142h1v1h-1zM438 142h1v1h-1zM438 140h1v1h-1zM439 143h1v1h-1zM439 139h1v1h-1zM440 144h1v1h-1zM440 138h1v1h-1zM441 145h1v1h-1zM441 137h1v1h-1zM435 141h9v1h-9zM439 137h1v9h-1zM435 137h1v1h-1zM435 145h1v1h-1zM436 138h1v1h-1zM436 144h1v1h-1zM437 139h1v1h-1zM437 143h1v1h-1zM438 140h1v1h-1zM438 142h1v1h-1zM440 142h1v1h-1zM440 140h1v1h-1zM441 143h1v1h-1zM441 139h1v1h-1zM442 144h1v1h-1zM442 138h1v1h-1zM443 145h1v1h-1zM443 137h1v1h-1zM419 156h9v1h-9zM423 152h1v9h-1zM419 152h1v1h-1zM419 160h1v1h-1zM420 153h1v1h-1zM420 159h1v1h-1zM421 154h1v1h-1zM421 158h1v1h-1zM422 155h1v1h-1zM422 157h1v1h-1zM424 157h1v1h-1zM424 155h1v1h-1zM425 158h1v1h-1zM425 154h1v1h-1zM426 159h1v1h-1zM426 153h1v1h-1zM427 160h1v1h-1zM427 152h1v1h-1zM421 156h9v1h-9zM425 152h1v9h-1zM421 152h1v1h-1zM421 160h1v1h-1zM422 153h1v1h-1zM422 159h1v1h-1zM423 154h1v1h-1zM423 158h1v1h-1zM424 155h1v1h-1zM424 157h1v1h-1zM426 157h1v1h-1zM426 155h1v1h-1zM427 158h1v1h-1zM427 154h1v1h-1zM428 159h1v1h-1zM428 153h1v1h-1zM429 160h1v1h-1zM429 152h1v1h-1zM438 155h9v1h-9zM442 151h1v9h-1zM438 151h1v1h-1zM438 159h1v1h-1zM439 152h1v1h-1zM439 158h1v1h-1zM440 153h1v1h-1zM440 157h1v1h-1zM441 154h1v1h-1zM441 156h1v1h-1zM443 156h1v1h-1zM443 154h1v1h-1zM444 157h1v1h-1zM444 153h1v1h-1zM445 158h1v1h-1zM445 152h1v1h-1zM446 159h1v1h-1zM446 151h1v1h-1zM413 167h9v1h-9zM417 163h1v9h-1zM413 163h1v1h-1zM413 171h1v1h-1zM414 164h1v1h-1zM414 170h1v1h-1zM415 165h1v1h-1zM415 169h1v1h-1zM416 166h1v1h-1zM416 168h1v1h-1zM418 168h1v1h-1zM418 166h1v1h-1zM419 169h1v1h-1zM419 165h1v1h-1zM420 170h1v1h-1zM420 164h1v1h-1zM421 171h1v1h-1zM421 163h1v1h-1zM416 177h9v1h-9zM420 173h1v9h-1zM416 173h1v1h-1zM416 181h1v1h-1zM417 174h1v1h-1zM417 180h1v1h-1zM418 175h1v1h-1zM418 179h1v1h-1zM419 176h1v1h-1zM419 178h1v1h-1zM421 178h1v1h-1zM421 176h1v1h-1zM422 179h1v1h-1zM422 175h1v1h-1zM423 180h1v1h-1zM423 174h1v1h-1zM424 181h1v1h-1zM424 173h1v1h-1zM342 176h9v1h-9zM346 172h1v9h-1zM342 172h1v1h-1zM342 180h1v1h-1zM343 173h1v1h-1zM343 179h1v1h-1zM344 174h1v1h-1zM344 178h1v1h-1zM345 175h1v1h-1zM345 177h1v1h-1zM347 177h1v1h-1zM347 175h1v1h-1zM348 178h1v1h-1zM348 174h1v1h-1zM349 179h1v1h-1zM349 173h1v1h-1zM350 180h1v1h-1zM350 172h1v1h-1zM238 138h9v1h-9zM242 134h1v9h-1zM238 134h1v1h-1zM238 142h1v1h-1zM239 135h1v1h-1zM239 141h1v1h-1zM240 136h1v1h-1zM240 140h1v1h-1zM241 137h1v1h-1zM241 139h1v1h-1zM243 139h1v1h-1zM243 137h1v1h-1zM244 140h1v1h-1zM244 136h1v1h-1zM245 141h1v1h-1zM245 135h1v1h-1zM246 142h1v1h-1zM246 134h1v1h-1zM242 139h9v1h-9zM246 135h1v9h-1zM242 135h1v1h-1zM242 143h1v1h-1zM243 136h1v1h-1zM243 142h1v1h-1zM244 137h1v1h-1zM244 141h1v1h-1zM245 138h1v1h-1zM245 140h1v1h-1zM247 140h1v1h-1zM247 138h1v1h-1zM248 141h1v1h-1zM248 137h1v1h-1zM249 142h1v1h-1zM249 136h1v1h-1zM250 143h1v1h-1zM250 135h1v1h-1zM246 139h9v1h-9zM250 135h1v9h-1zM246 135h1v1h-1zM246 143h1v1h-1zM247 136h1v1h-1zM247 142h1v1h-1zM248 137h1v1h-1zM248 141h1v1h-1zM249 138h1v1h-1zM249 140h1v1h-1zM251 140h1v1h-1zM251 138h1v1h-1zM252 141h1v1h-1zM252 137h1v1h-1zM253 142h1v1h-1zM253 136h1v1h-1zM254 143h1v1h-1zM254 135h1v1h-1zM250 139h9v1h-9zM254 135h1v9h-1zM250 135h1v1h-1zM250 143h1v1h-1zM251 136h1v1h-1zM251 142h1v1h-1zM252 137h1v1h-1zM252 141h1v1h-1zM253 138h1v1h-1zM253 140h1v1h-1zM255 140h1v1h-1zM255 138h1v1h-1zM256 141h1v1h-1zM256 137h1v1h-1zM257 142h1v1h-1zM257 136h1v1h-1zM258 143h1v1h-1zM258 135h1v1h-1zM252 139h9v1h-9zM256 135h1v9h-1zM252 135h1v1h-1zM252 143h1v1h-1zM253 136h1v1h-1zM253 142h1v1h-1zM254 137h1v1h-1zM254 141h1v1h-1zM255 138h1v1h-1zM255 140h1v1h-1zM257 140h1v1h-1zM257 138h1v1h-1zM258 141h1v1h-1zM258 137h1v1h-1zM259 142h1v1h-1zM259 136h1v1h-1zM260 143h1v1h-1zM260 135h1v1h-1zM238 142h9v1h-9zM242 138h1v9h-1zM238 138h1v1h-1zM238 146h1v1h-1zM239 139h1v1h-1zM239 145h1v1h-1zM240 140h1v1h-1zM240 144h1v1h-1zM241 141h1v1h-1zM241 143h1v1h-1zM243 143h1v1h-1zM243 141h1v1h-1zM244 144h1v1h-1zM244 140h1v1h-1zM245 145h1v1h-1zM245 139h1v1h-1zM246 146h1v1h-1zM246 138h1v1h-1zM242 142h9v1h-9zM246 138h1v9h-1zM242 138h1v1h-1zM242 146h1v1h-1zM243 139h1v1h-1zM243 145h1v1h-1zM244 140h1v1h-1zM244 144h1v1h-1zM245 141h1v1h-1zM245 143h1v1h-1zM247 143h1v1h-1zM247 141h1v1h-1zM248 144h1v1h-1zM248 140h1v1h-1zM249 145h1v1h-1zM249 139h1v1h-1zM250 146h1v1h-1zM250 138h1v1h-1zM246 142h9v1h-9zM250 138h1v9h-1zM246 138h1v1h-1zM246 146h1v1h-1zM247 139h1v1h-1zM247 145h1v1h-1zM248 140h1v1h-1zM248 144h1v1h-1zM249 141h1v1h-1zM249 143h1v1h-1zM251 143h1v1h-1zM251 141h1v1h-1zM252 144h1v1h-1zM252 140h1v1h-1zM253 145h1v1h-1zM253 139h1v1h-1zM254 146h1v1h-1zM254 138h1v1h-1zM250 142h9v1h-9zM254 138h1v9h-1zM250 138h1v1h-1zM250 146h1v1h-1zM251 139h1v1h-1zM251 145h1v1h-1zM252 140h1v1h-1zM252 144h1v1h-1zM253 141h1v1h-1zM253 143h1v1h-1zM255 143h1v1h-1zM255 141h1v1h-1zM256 144h1v1h-1zM256 140h1v1h-1zM257 145h1v1h-1zM257 139h1v1h-1zM258 146h1v1h-1zM258 138h1v1h-1zM252 143h9v1h-9zM256 139h1v9h-1zM252 139h1v1h-1zM252 147h1v1h-1zM253 140h1v1h-1zM253 146h1v1h-1zM254 141h1v1h-1zM254 145h1v1h-1zM255 142h1v1h-1zM255 144h1v1h-1zM257 144h1v1h-1zM257 142h1v1h-1zM258 145h1v1h-1zM258 141h1v1h-1zM259 146h1v1h-1zM259 140h1v1h-1zM260 147h1v1h-1zM260 139h1v1h-1zM238 146h9v1h-9zM242 142h1v9h-1zM238 142h1v1h-1zM238 150h1v1h-1zM239 143h1v1h-1zM239 149h1v1h-1zM240 144h1v1h-1zM240 148h1v1h-1zM241 145h1v1h-1zM241 147h1v1h-1zM243 147h1v1h-1zM243 145h1v1h-1zM244 148h1v1h-1zM244 144h1v1h-1zM245 149h1v1h-1zM245 143h1v1h-1zM246 150h1v1h-1zM246 142h1v1h-1zM242 146h9v1h-9zM246 142h1v9h-1zM242 142h1v1h-1zM242 150h1v1h-1zM243 143h1v1h-1zM243 149h1v1h-1zM244 144h1v1h-1zM244 148h1v1h-1zM245 145h1v1h-1zM245 147h1v1h-1zM247 147h1v1h-1zM247 145h1v1h-1zM248 148h1v1h-1zM248 144h1v1h-1zM249 149h1v1h-1zM249 143h1v1h-1zM250 150h1v1h-1zM250 142h1v1h-1zM246 145h9v1h-9zM250 141h1v9h-1zM246 141h1v1h-1zM246 149h1v1h-1zM247 142h1v1h-1zM247 148h1v1h-1zM248 143h1v1h-1zM248 147h1v1h-1zM249 144h1v1h-1zM249 146h1v1h-1zM251 146h1v1h-1zM251 144h1v1h-1zM252 147h1v1h-1zM252 143h1v1h-1zM253 148h1v1h-1zM253 142h1v1h-1zM254 149h1v1h-1zM254 141h1v1h-1zM238 150h9v1h-9zM242 146h1v9h-1zM238 146h1v1h-1zM238 154h1v1h-1zM239 147h1v1h-1zM239 153h1v1h-1zM240 148h1v1h-1zM240 152h1v1h-1zM241 149h1v1h-1zM241 151h1v1h-1zM243 151h1v1h-1zM243 149h1v1h-1zM244 152h1v1h-1zM244 148h1v1h-1zM245 153h1v1h-1zM245 147h1v1h-1zM246 154h1v1h-1zM246 146h1v1h-1zM240 150h9v1h-9zM244 146h1v9h-1zM240 146h1v1h-1zM240 154h1v1h-1zM241 147h1v1h-1zM241 153h1v1h-1zM242 148h1v1h-1zM242 152h1v1h-1zM243 149h1v1h-1zM243 151h1v1h-1zM245 151h1v1h-1zM245 149h1v1h-1zM246 152h1v1h-1zM246 148h1v1h-1zM247 153h1v1h-1zM247 147h1v1h-1zM248 154h1v1h-1zM248 146h1v1h-1zM238 152h9v1h-9zM242 148h1v9h-1zM238 148h1v1h-1zM238 156h1v1h-1zM239 149h1v1h-1zM239 155h1v1h-1zM240 150h1v1h-1zM240 154h1v1h-1zM241 151h1v1h-1zM241 153h1v1h-1zM243 153h1v1h-1zM243 151h1v1h-1zM244 154h1v1h-1zM244 150h1v1h-1zM245 155h1v1h-1zM245 149h1v1h-1zM246 156h1v1h-1zM246 148h1v1h-1zM241 153h9v1h-9zM245 149h1v9h-1zM241 149h1v1h-1zM241 157h1v1h-1zM242 150h1v1h-1zM242 156h1v1h-1zM243 151h1v1h-1zM243 155h1v1h-1zM244 152h1v1h-1zM244 154h1v1h-1zM246 154h1v1h-1zM246 152h1v1h-1zM247 155h1v1h-1zM247 151h1v1h-1zM248 156h1v1h-1zM248 150h1v1h-1zM249 157h1v1h-1zM249 149h1v1h-1zM238 155h9v1h-9zM242 151h1v9h-1zM238 151h1v1h-1zM238 159h1v1h-1zM239 152h1v1h-1zM239 158h1v1h-1zM240 153h1v1h-1zM240 157h1v1h-1zM241 154h1v1h-1zM241 156h1v1h-1zM243 156h1v1h-1zM243 154h1v1h-1zM244 157h1v1h-1zM244 153h1v1h-1zM245 158h1v1h-1zM245 152h1v1h-1zM246 159h1v1h-1zM246 151h1v1h-1zM240 157h9v1h-9zM244 153h1v9h-1zM240 153h1v1h-1zM240 161h1v1h-1zM241 154h1v1h-1zM241 160h1v1h-1zM242 155h1v1h-1zM242 159h1v1h-1zM243 156h1v1h-1zM243 158h1v1h-1zM245 158h1v1h-1zM245 156h1v1h-1zM246 159h1v1h-1zM246 155h1v1h-1zM247 160h1v1h-1zM247 154h1v1h-1zM248 161h1v1h-1zM248 153h1v1h-1zM238 159h9v1h-9zM242 155h1v9h-1zM238 155h1v1h-1zM238 163h1v1h-1zM239 156h1v1h-1zM239 162h1v1h-1zM240 157h1v1h-1zM240 161h1v1h-1zM241 158h1v1h-1zM241 160h1v1h-1zM243 160h1v1h-1zM243 158h1v1h-1zM244 161h1v1h-1zM244 157h1v1h-1zM245 162h1v1h-1zM245 156h1v1h-1zM246 163h1v1h-1zM246 155h1v1h-1zM241 160h9v1h-9zM245 156h1v9h-1zM241 156h1v1h-1zM241 164h1v1h-1zM242 157h1v1h-1zM242 163h1v1h-1zM243 158h1v1h-1zM243 162h1v1h-1zM244 159h1v1h-1zM244 161h1v1h-1zM246 161h1v1h-1zM246 159h1v1h-1zM247 162h1v1h-1zM247 158h1v1h-1zM248 163h1v1h-1zM248 157h1v1h-1zM249 164h1v1h-1zM249 156h1v1h-1zM239 162h9v1h-9zM243 158h1v9h-1zM239 158h1v1h-1zM239 166h1v1h-1zM240 159h1v1h-1zM240 165h1v1h-1zM241 160h1v1h-1zM241 164h1v1h-1zM242 161h1v1h-1zM242 163h1v1h-1zM244 163h1v1h-1zM244 161h1v1h-1zM245 164h1v1h-1zM245 160h1v1h-1zM246 165h1v1h-1zM246 159h1v1h-1zM247 166h1v1h-1zM247 158h1v1h-1zM243 156h9v1h-9zM247 152h1v9h-1zM243 152h1v1h-1zM243 160h1v1h-1zM244 153h1v1h-1zM244 159h1v1h-1zM245 154h1v1h-1zM245 158h1v1h-1zM246 155h1v1h-1zM246 157h1v1h-1zM248 157h1v1h-1zM248 155h1v1h-1zM249 158h1v1h-1zM249 154h1v1h-1zM250 159h1v1h-1zM250 153h1v1h-1zM251 160h1v1h-1zM251 152h1v1h-1zM245 158h9v1h-9zM249 154h1v9h-1zM245 154h1v1h-1zM245 162h1v1h-1zM246 155h1v1h-1zM246 161h1v1h-1zM247 156h1v1h-1zM247 160h1v1h-1zM248 157h1v1h-1zM248 159h1v1h-1zM250 159h1v1h-1zM250 157h1v1h-1zM251 160h1v1h-1zM251 156h1v1h-1zM252 161h1v1h-1zM252 155h1v1h-1zM253 162h1v1h-1zM253 154h1v1h-1zM242 162h9v1h-9zM246 158h1v9h-1zM242 158h1v1h-1zM242 166h1v1h-1zM243 159h1v1h-1zM243 165h1v1h-1zM244 160h1v1h-1zM244 164h1v1h-1zM245 161h1v1h-1zM245 163h1v1h-1zM247 163h1v1h-1zM247 161h1v1h-1zM248 164h1v1h-1zM248 160h1v1h-1zM249 165h1v1h-1zM249 159h1v1h-1zM250 166h1v1h-1zM250 158h1v1h-1zM250 147h9v1h-9zM254 143h1v9h-1zM250 143h1v1h-1zM250 151h1v1h-1zM251 144h1v1h-1zM251 150h1v1h-1zM252 145h1v1h-1zM252 149h1v1h-1zM253 146h1v1h-1zM253 148h1v1h-1zM255 148h1v1h-1zM255 146h1v1h-1zM256 149h1v1h-1zM256 145h1v1h-1zM257 150h1v1h-1zM257 144h1v1h-1zM258 151h1v1h-1zM258 143h1v1h-1zM277 149h9v1h-9zM281 145h1v9h-1zM277 145h1v1h-1zM277 153h1v1h-1zM278 146h1v1h-1zM278 152h1v1h-1zM279 147h1v1h-1zM279 151h1v1h-1zM280 148h1v1h-1zM280 150h1v1h-1zM282 150h1v1h-1zM282 148h1v1h-1zM283 151h1v1h-1zM283 147h1v1h-1zM284 152h1v1h-1zM284 146h1v1h-1zM285 153h1v1h-1zM285 145h1v1h-1zM290 154h9v1h-9zM294 150h1v9h-1zM290 150h1v1h-1zM290 158h1v1h-1zM291 151h1v1h-1zM291 157h1v1h-1zM292 152h1v1h-1zM292 156h1v1h-1zM293 153h1v1h-1zM293 155h1v1h-1zM295 155h1v1h-1zM295 153h1v1h-1zM296 156h1v1h-1zM296 152h1v1h-1zM297 157h1v1h-1zM297 151h1v1h-1zM298 158h1v1h-1zM298 150h1v1h-1zM282 157h9v1h-9zM286 153h1v9h-1zM282 153h1v1h-1zM282 161h1v1h-1zM283 154h1v1h-1zM283 160h1v1h-1zM284 155h1v1h-1zM284 159h1v1h-1zM285 156h1v1h-1zM285 158h1v1h-1zM287 158h1v1h-1zM287 156h1v1h-1zM288 159h1v1h-1zM288 155h1v1h-1zM289 160h1v1h-1zM289 154h1v1h-1zM290 161h1v1h-1zM290 153h1v1h-1zM291 160h9v1h-9zM295 156h1v9h-1zM291 156h1v1h-1zM291 164h1v1h-1zM292 157h1v1h-1zM292 163h1v1h-1zM293 158h1v1h-1zM293 162h1v1h-1zM294 159h1v1h-1zM294 161h1v1h-1zM296 161h1v1h-1zM296 159h1v1h-1zM297 162h1v1h-1zM297 158h1v1h-1zM298 163h1v1h-1zM298 157h1v1h-1zM299 164h1v1h-1zM299 156h1v1h-1zM283 164h9v1h-9zM287 160h1v9h-1zM283 160h1v1h-1zM283 168h1v1h-1zM284 161h1v1h-1zM284 167h1v1h-1zM285 162h1v1h-1zM285 166h1v1h-1zM286 163h1v1h-1zM286 165h1v1h-1zM288 165h1v1h-1zM288 163h1v1h-1zM289 166h1v1h-1zM289 162h1v1h-1zM290 167h1v1h-1zM290 161h1v1h-1zM291 168h1v1h-1zM291 160h1v1h-1zM289 168h9v1h-9zM293 164h1v9h-1zM289 164h1v1h-1zM289 172h1v1h-1zM290 165h1v1h-1zM290 171h1v1h-1zM291 166h1v1h-1zM291 170h1v1h-1zM292 167h1v1h-1zM292 169h1v1h-1zM294 169h1v1h-1zM294 167h1v1h-1zM295 170h1v1h-1zM295 166h1v1h-1zM296 171h1v1h-1zM296 165h1v1h-1zM297 172h1v1h-1zM297 164h1v1h-1zM282 174h9v1h-9zM286 170h1v9h-1zM282 170h1v1h-1zM282 178h1v1h-1zM283 171h1v1h-1zM283 177h1v1h-1zM284 172h1v1h-1zM284 176h1v1h-1zM285 173h1v1h-1zM285 175h1v1h-1zM287 175h1v1h-1zM287 173h1v1h-1zM288 176h1v1h-1zM288 172h1v1h-1zM289 177h1v1h-1zM289 171h1v1h-1zM290 178h1v1h-1zM290 170h1v1h-1zM281 181h9v1h-9zM285 177h1v9h-1zM281 177h1v1h-1zM281 185h1v1h-1zM282 178h1v1h-1zM282 184h1v1h-1zM283 179h1v1h-1zM283 183h1v1h-1zM284 180h1v1h-1zM284 182h1v1h-1zM286 182h1v1h-1zM286 180h1v1h-1zM287 183h1v1h-1zM287 179h1v1h-1zM288 184h1v1h-1zM288 178h1v1h-1zM289 185h1v1h-1zM289 177h1v1h-1zM280 185h9v1h-9zM284 181h1v9h-1zM280 181h1v1h-1zM280 189h1v1h-1zM281 182h1v1h-1zM281 188h1v1h-1zM282 183h1v1h-1zM282 187h1v1h-1zM283 184h1v1h-1zM283 186h1v1h-1zM285 186h1v1h-1zM285 184h1v1h-1zM286 187h1v1h-1zM286 183h1v1h-1zM287 188h1v1h-1zM287 182h1v1h-1zM288 189h1v1h-1zM288 181h1v1h-1zM279 190h9v1h-9zM283 186h1v9h-1zM279 186h1v1h-1zM279 194h1v1h-1zM280 187h1v1h-1zM280 193h1v1h-1zM281 188h1v1h-1zM281 192h1v1h-1zM282 189h1v1h-1zM282 191h1v1h-1zM284 191h1v1h-1zM284 189h1v1h-1zM285 192h1v1h-1zM285 188h1v1h-1zM286 193h1v1h-1zM286 187h1v1h-1zM287 194h1v1h-1zM287 186h1v1h-1zM298 149h9v1h-9zM302 145h1v9h-1zM298 145h1v1h-1zM298 153h1v1h-1zM299 146h1v1h-1zM299 152h1v1h-1zM300 147h1v1h-1zM300 151h1v1h-1zM301 148h1v1h-1zM301 150h1v1h-1zM303 150h1v1h-1zM303 148h1v1h-1zM304 151h1v1h-1zM304 147h1v1h-1zM305 152h1v1h-1zM305 146h1v1h-1zM306 153h1v1h-1zM306 145h1v1h-1zM306 146h9v1h-9zM310 142h1v9h-1zM306 142h1v1h-1zM306 150h1v1h-1zM307 143h1v1h-1zM307 149h1v1h-1zM308 144h1v1h-1zM308 148h1v1h-1zM309 145h1v1h-1zM309 147h1v1h-1zM311 147h1v1h-1zM311 145h1v1h-1zM312 148h1v1h-1zM312 144h1v1h-1zM313 149h1v1h-1zM313 143h1v1h-1zM314 150h1v1h-1zM314 142h1v1h-1zM324 154h9v1h-9zM328 150h1v9h-1zM324 150h1v1h-1zM324 158h1v1h-1zM325 151h1v1h-1zM325 157h1v1h-1zM326 152h1v1h-1zM326 156h1v1h-1zM327 153h1v1h-1zM327 155h1v1h-1zM329 155h1v1h-1zM329 153h1v1h-1zM330 156h1v1h-1zM330 152h1v1h-1zM331 157h1v1h-1zM331 151h1v1h-1zM332 158h1v1h-1zM332 150h1v1h-1zM326 151h9v1h-9zM330 147h1v9h-1zM326 147h1v1h-1zM326 155h1v1h-1zM327 148h1v1h-1zM327 154h1v1h-1zM328 149h1v1h-1zM328 153h1v1h-1zM329 150h1v1h-1zM329 152h1v1h-1zM331 152h1v1h-1zM331 150h1v1h-1zM332 153h1v1h-1zM332 149h1v1h-1zM333 154h1v1h-1zM333 148h1v1h-1zM334 155h1v1h-1zM334 147h1v1h-1zM329 147h9v1h-9zM333 143h1v9h-1zM329 143h1v1h-1zM329 151h1v1h-1zM330 144h1v1h-1zM330 150h1v1h-1zM331 145h1v1h-1zM331 149h1v1h-1zM332 146h1v1h-1zM332 148h1v1h-1zM334 148h1v1h-1zM334 146h1v1h-1zM335 149h1v1h-1zM335 145h1v1h-1zM336 150h1v1h-1zM336 144h1v1h-1zM337 151h1v1h-1zM337 143h1v1h-1zM334 141h9v1h-9zM338 137h1v9h-1zM334 137h1v1h-1zM334 145h1v1h-1zM335 138h1v1h-1zM335 144h1v1h-1zM336 139h1v1h-1zM336 143h1v1h-1zM337 140h1v1h-1zM337 142h1v1h-1zM339 142h1v1h-1zM339 140h1v1h-1zM340 143h1v1h-1zM340 139h1v1h-1zM341 144h1v1h-1zM341 138h1v1h-1zM342 145h1v1h-1zM342 137h1v1h-1zM273 140h9v1h-9zM277 136h1v9h-1zM273 136h1v1h-1zM273 144h1v1h-1zM274 137h1v1h-1zM274 143h1v1h-1zM275 138h1v1h-1zM275 142h1v1h-1zM276 139h1v1h-1zM276 141h1v1h-1zM278 141h1v1h-1zM278 139h1v1h-1zM279 142h1v1h-1zM279 138h1v1h-1zM280 143h1v1h-1zM280 137h1v1h-1zM281 144h1v1h-1zM281 136h1v1h-1zM307 184h9v1h-9zM311 180h1v9h-1zM307 180h1v1h-1zM307 188h1v1h-1zM308 181h1v1h-1zM308 187h1v1h-1zM309 182h1v1h-1zM309 186h1v1h-1zM310 183h1v1h-1zM310 185h1v1h-1zM312 185h1v1h-1zM312 183h1v1h-1zM313 186h1v1h-1zM313 182h1v1h-1zM314 187h1v1h-1zM314 181h1v1h-1zM315 188h1v1h-1zM315 180h1v1h-1zM244 174h9v1h-9zM248 170h1v9h-1zM244 170h1v1h-1zM244 178h1v1h-1zM245 171h1v1h-1zM245 177h1v1h-1zM246 172h1v1h-1zM246 176h1v1h-1zM247 173h1v1h-1zM247 175h1v1h-1zM249 175h1v1h-1zM249 173h1v1h-1zM250 176h1v1h-1zM250 172h1v1h-1zM251 177h1v1h-1zM251 171h1v1h-1zM252 178h1v1h-1zM252 170h1v1h-1zM245 176h9v1h-9zM249 172h1v9h-1zM245 172h1v1h-1zM245 180h1v1h-1zM246 173h1v1h-1zM246 179h1v1h-1zM247 174h1v1h-1zM247 178h1v1h-1zM248 175h1v1h-1zM248 177h1v1h-1zM250 177h1v1h-1zM250 175h1v1h-1zM251 178h1v1h-1zM251 174h1v1h-1zM252 179h1v1h-1zM252 173h1v1h-1zM253 180h1v1h-1zM253 172h1v1h-1zM244 179h9v1h-9zM248 175h1v9h-1zM244 175h1v1h-1zM244 183h1v1h-1zM245 176h1v1h-1zM245 182h1v1h-1zM246 177h1v1h-1zM246 181h1v1h-1zM247 178h1v1h-1zM247 180h1v1h-1zM249 180h1v1h-1zM249 178h1v1h-1zM250 181h1v1h-1zM250 177h1v1h-1zM251 182h1v1h-1zM251 176h1v1h-1zM252 183h1v1h-1zM252 175h1v1h-1zM245 192h9v1h-9zM249 188h1v9h-1zM245 188h1v1h-1zM245 196h1v1h-1zM246 189h1v1h-1zM246 195h1v1h-1zM247 190h1v1h-1zM247 194h1v1h-1zM248 191h1v1h-1zM248 193h1v1h-1zM250 193h1v1h-1zM250 191h1v1h-1zM251 194h1v1h-1zM251 190h1v1h-1zM252 195h1v1h-1zM252 189h1v1h-1zM253 196h1v1h-1zM253 188h1v1h-1zM242 203h9v1h-9zM246 199h1v9h-1zM242 199h1v1h-1zM242 207h1v1h-1zM243 200h1v1h-1zM243 206h1v1h-1zM244 201h1v1h-1zM244 205h1v1h-1zM245 202h1v1h-1zM245 204h1v1h-1zM247 204h1v1h-1zM247 202h1v1h-1zM248 205h1v1h-1zM248 201h1v1h-1zM249 206h1v1h-1zM249 200h1v1h-1zM250 207h1v1h-1zM250 199h1v1h-1zM241 206h9v1h-9zM245 202h1v9h-1zM241 202h1v1h-1zM241 210h1v1h-1zM242 203h1v1h-1zM242 209h1v1h-1zM243 204h1v1h-1zM243 208h1v1h-1zM244 205h1v1h-1zM244 207h1v1h-1zM246 207h1v1h-1zM246 205h1v1h-1zM247 208h1v1h-1zM247 204h1v1h-1zM248 209h1v1h-1zM248 203h1v1h-1zM249 210h1v1h-1zM249 202h1v1h-1zM239 210h9v1h-9zM243 206h1v9h-1zM239 206h1v1h-1zM239 214h1v1h-1zM240 207h1v1h-1zM240 213h1v1h-1zM241 208h1v1h-1zM241 212h1v1h-1zM242 209h1v1h-1zM242 211h1v1h-1zM244 211h1v1h-1zM244 209h1v1h-1zM245 212h1v1h-1zM245 208h1v1h-1zM246 213h1v1h-1zM246 207h1v1h-1zM247 214h1v1h-1zM247 206h1v1h-1zM239 213h9v1h-9zM243 209h1v9h-1zM239 209h1v1h-1zM239 217h1v1h-1zM240 210h1v1h-1zM240 216h1v1h-1zM241 211h1v1h-1zM241 215h1v1h-1zM242 212h1v1h-1zM242 214h1v1h-1zM244 214h1v1h-1zM244 212h1v1h-1zM245 215h1v1h-1zM245 211h1v1h-1zM246 216h1v1h-1zM246 210h1v1h-1zM247 217h1v1h-1zM247 209h1v1h-1zM298 192h9v1h-9zM302 188h1v9h-1zM298 188h1v1h-1zM298 196h1v1h-1zM299 189h1v1h-1zM299 195h1v1h-1zM300 190h1v1h-1zM300 194h1v1h-1zM301 191h1v1h-1zM301 193h1v1h-1zM303 193h1v1h-1zM303 191h1v1h-1zM304 194h1v1h-1zM304 190h1v1h-1zM305 195h1v1h-1zM305 189h1v1h-1zM306 196h1v1h-1zM306 188h1v1h-1zM280 207h9v1h-9zM284 203h1v9h-1zM280 203h1v1h-1zM280 211h1v1h-1zM281 204h1v1h-1zM281 210h1v1h-1zM282 205h1v1h-1zM282 209h1v1h-1zM283 206h1v1h-1zM283 208h1v1h-1zM285 208h1v1h-1zM285 206h1v1h-1zM286 209h1v1h-1zM286 205h1v1h-1zM287 210h1v1h-1zM287 204h1v1h-1zM288 211h1v1h-1zM288 203h1v1h-1zM279 210h9v1h-9zM283 206h1v9h-1zM279 206h1v1h-1zM279 214h1v1h-1zM280 207h1v1h-1zM280 213h1v1h-1zM281 208h1v1h-1zM281 212h1v1h-1zM282 209h1v1h-1zM282 211h1v1h-1zM284 211h1v1h-1zM284 209h1v1h-1zM285 212h1v1h-1zM285 208h1v1h-1zM286 213h1v1h-1zM286 207h1v1h-1zM287 214h1v1h-1zM287 206h1v1h-1zM308 205h9v1h-9zM312 201h1v9h-1zM308 201h1v1h-1zM308 209h1v1h-1zM309 202h1v1h-1zM309 208h1v1h-1zM310 203h1v1h-1zM310 207h1v1h-1zM311 204h1v1h-1zM311 206h1v1h-1zM313 206h1v1h-1zM313 204h1v1h-1zM314 207h1v1h-1zM314 203h1v1h-1zM315 208h1v1h-1zM315 202h1v1h-1zM316 209h1v1h-1zM316 201h1v1h-1zM327 215h9v1h-9zM331 211h1v9h-1zM327 211h1v1h-1zM327 219h1v1h-1zM328 212h1v1h-1zM328 218h1v1h-1zM329 213h1v1h-1zM329 217h1v1h-1zM330 214h1v1h-1zM330 216h1v1h-1zM332 216h1v1h-1zM332 214h1v1h-1zM333 217h1v1h-1zM333 213h1v1h-1zM334 218h1v1h-1zM334 212h1v1h-1zM335 219h1v1h-1zM335 211h1v1h-1zM284 224h9v1h-9zM288 220h1v9h-1zM284 220h1v1h-1zM284 228h1v1h-1zM285 221h1v1h-1zM285 227h1v1h-1zM286 222h1v1h-1zM286 226h1v1h-1zM287 223h1v1h-1zM287 225h1v1h-1zM289 225h1v1h-1zM289 223h1v1h-1zM290 226h1v1h-1zM290 222h1v1h-1zM291 227h1v1h-1zM291 221h1v1h-1zM292 228h1v1h-1zM292 220h1v1h-1zM240 237h9v1h-9zM244 233h1v9h-1zM240 233h1v1h-1zM240 241h1v1h-1zM241 234h1v1h-1zM241 240h1v1h-1zM242 235h1v1h-1zM242 239h1v1h-1zM243 236h1v1h-1zM243 238h1v1h-1zM245 238h1v1h-1zM245 236h1v1h-1zM246 239h1v1h-1zM246 235h1v1h-1zM247 240h1v1h-1zM247 234h1v1h-1zM248 241h1v1h-1zM248 233h1v1h-1zM321 234h9v1h-9zM325 230h1v9h-1zM321 230h1v1h-1zM321 238h1v1h-1zM322 231h1v1h-1zM322 237h1v1h-1zM323 232h1v1h-1zM323 236h1v1h-1zM324 233h1v1h-1zM324 235h1v1h-1zM326 235h1v1h-1zM326 233h1v1h-1zM327 236h1v1h-1zM327 232h1v1h-1zM328 237h1v1h-1zM328 231h1v1h-1zM329 238h1v1h-1zM329 230h1v1h-1zM245 249h9v1h-9zM249 245h1v9h-1zM245 245h1v1h-1zM245 253h1v1h-1zM246 246h1v1h-1zM246 252h1v1h-1zM247 247h1v1h-1zM247 251h1v1h-1zM248 248h1v1h-1zM248 250h1v1h-1zM250 250h1v1h-1zM250 248h1v1h-1zM251 251h1v1h-1zM251 247h1v1h-1zM252 252h1v1h-1zM252 246h1v1h-1zM253 253h1v1h-1zM253 245h1v1h-1zM293 241h9v1h-9zM297 237h1v9h-1zM293 237h1v1h-1zM293 245h1v1h-1zM294 238h1v1h-1zM294 244h1v1h-1zM295 239h1v1h-1zM295 243h1v1h-1zM296 240h1v1h-1zM296 242h1v1h-1zM298 242h1v1h-1zM298 240h1v1h-1zM299 243h1v1h-1zM299 239h1v1h-1zM300 244h1v1h-1zM300 238h1v1h-1zM301 245h1v1h-1zM301 237h1v1h-1zM286 286h9v1h-9zM290 282h1v9h-1zM286 282h1v1h-1zM286 290h1v1h-1zM287 283h1v1h-1zM287 289h1v1h-1zM288 284h1v1h-1zM288 288h1v1h-1zM289 285h1v1h-1zM289 287h1v1h-1zM291 287h1v1h-1zM291 285h1v1h-1zM292 288h1v1h-1zM292 284h1v1h-1zM293 289h1v1h-1zM293 283h1v1h-1zM294 290h1v1h-1zM294 282h1v1h-1zM320 285h9v1h-9zM324 281h1v9h-1zM320 281h1v1h-1zM320 289h1v1h-1zM321 282h1v1h-1zM321 288h1v1h-1zM322 283h1v1h-1zM322 287h1v1h-1zM323 284h1v1h-1zM323 286h1v1h-1zM325 286h1v1h-1zM325 284h1v1h-1zM326 287h1v1h-1zM326 283h1v1h-1zM327 288h1v1h-1zM327 282h1v1h-1zM328 289h1v1h-1zM328 281h1v1h-1zM319 290h9v1h-9zM323 286h1v9h-1zM319 286h1v1h-1zM319 294h1v1h-1zM320 287h1v1h-1zM320 293h1v1h-1zM321 288h1v1h-1zM321 292h1v1h-1zM322 289h1v1h-1zM322 291h1v1h-1zM324 291h1v1h-1zM324 289h1v1h-1zM325 292h1v1h-1zM325 288h1v1h-1zM326 293h1v1h-1zM326 287h1v1h-1zM327 294h1v1h-1zM327 286h1v1h-1zM242 291h9v1h-9zM246 287h1v9h-1zM242 287h1v1h-1zM242 295h1v1h-1zM243 288h1v1h-1zM243 294h1v1h-1zM244 289h1v1h-1zM244 293h1v1h-1zM245 290h1v1h-1zM245 292h1v1h-1zM247 292h1v1h-1zM247 290h1v1h-1zM248 293h1v1h-1zM248 289h1v1h-1zM249 294h1v1h-1zM249 288h1v1h-1zM250 295h1v1h-1zM250 287h1v1h-1zM244 292h9v1h-9zM248 288h1v9h-1zM244 288h1v1h-1zM244 296h1v1h-1zM245 289h1v1h-1zM245 295h1v1h-1zM246 290h1v1h-1zM246 294h1v1h-1zM247 291h1v1h-1zM247 293h1v1h-1zM249 293h1v1h-1zM249 291h1v1h-1zM250 294h1v1h-1zM250 290h1v1h-1zM251 295h1v1h-1zM251 289h1v1h-1zM252 296h1v1h-1zM252 288h1v1h-1zM318 311h9v1h-9zM322 307h1v9h-1zM318 307h1v1h-1zM318 315h1v1h-1zM319 308h1v1h-1zM319 314h1v1h-1zM320 309h1v1h-1zM320 313h1v1h-1zM321 310h1v1h-1zM321 312h1v1h-1zM323 312h1v1h-1zM323 310h1v1h-1zM324 313h1v1h-1zM324 309h1v1h-1zM325 314h1v1h-1zM325 308h1v1h-1zM326 315h1v1h-1zM326 307h1v1h-1zM317 325h9v1h-9zM321 321h1v9h-1zM317 321h1v1h-1zM317 329h1v1h-1zM318 322h1v1h-1zM318 328h1v1h-1zM319 323h1v1h-1zM319 327h1v1h-1zM320 324h1v1h-1zM320 326h1v1h-1zM322 326h1v1h-1zM322 324h1v1h-1zM323 327h1v1h-1zM323 323h1v1h-1zM324 328h1v1h-1zM324 322h1v1h-1zM325 329h1v1h-1zM325 321h1v1h-1zM246 337h9v1h-9zM250 333h1v9h-1zM246 333h1v1h-1zM246 341h1v1h-1zM247 334h1v1h-1zM247 340h1v1h-1zM248 335h1v1h-1zM248 339h1v1h-1zM249 336h1v1h-1zM249 338h1v1h-1zM251 338h1v1h-1zM251 336h1v1h-1zM252 339h1v1h-1zM252 335h1v1h-1zM253 340h1v1h-1zM253 334h1v1h-1zM254 341h1v1h-1zM254 333h1v1h-1zM276 334h9v1h-9zM280 330h1v9h-1zM276 330h1v1h-1zM276 338h1v1h-1zM277 331h1v1h-1zM277 337h1v1h-1zM278 332h1v1h-1zM278 336h1v1h-1zM279 333h1v1h-1zM279 335h1v1h-1zM281 335h1v1h-1zM281 333h1v1h-1zM282 336h1v1h-1zM282 332h1v1h-1zM283 337h1v1h-1zM283 331h1v1h-1zM284 338h1v1h-1zM284 330h1v1h-1zM278 338h9v1h-9zM282 334h1v9h-1zM278 334h1v1h-1zM278 342h1v1h-1zM279 335h1v1h-1zM279 341h1v1h-1zM280 336h1v1h-1zM280 340h1v1h-1zM281 337h1v1h-1zM281 339h1v1h-1zM283 339h1v1h-1zM283 337h1v1h-1zM284 340h1v1h-1zM284 336h1v1h-1zM285 341h1v1h-1zM285 335h1v1h-1zM286 342h1v1h-1zM286 334h1v1h-1zM297 338h9v1h-9zM301 334h1v9h-1zM297 334h1v1h-1zM297 342h1v1h-1zM298 335h1v1h-1zM298 341h1v1h-1zM299 336h1v1h-1zM299 340h1v1h-1zM300 337h1v1h-1zM300 339h1v1h-1zM302 339h1v1h-1zM302 337h1v1h-1zM303 340h1v1h-1zM303 336h1v1h-1zM304 341h1v1h-1zM304 335h1v1h-1zM305 342h1v1h-1zM305 334h1v1h-1zM241 345h9v1h-9zM245 341h1v9h-1zM241 341h1v1h-1zM241 349h1v1h-1zM242 342h1v1h-1zM242 348h1v1h-1zM243 343h1v1h-1zM243 347h1v1h-1zM244 344h1v1h-1zM244 346h1v1h-1zM246 346h1v1h-1zM246 344h1v1h-1zM247 347h1v1h-1zM247 343h1v1h-1zM248 348h1v1h-1zM248 342h1v1h-1zM249 349h1v1h-1zM249 341h1v1h-1zM239 358h9v1h-9zM243 354h1v9h-1zM239 354h1v1h-1zM239 362h1v1h-1zM240 355h1v1h-1zM240 361h1v1h-1zM241 356h1v1h-1zM241 360h1v1h-1zM242 357h1v1h-1zM242 359h1v1h-1zM244 359h1v1h-1zM244 357h1v1h-1zM245 360h1v1h-1zM245 356h1v1h-1zM246 361h1v1h-1zM246 355h1v1h-1zM247 362h1v1h-1zM247 354h1v1h-1zM239 359h9v1h-9zM243 355h1v9h-1zM239 355h1v1h-1zM239 363h1v1h-1zM240 356h1v1h-1zM240 362h1v1h-1zM241 357h1v1h-1zM241 361h1v1h-1zM242 358h1v1h-1zM242 360h1v1h-1zM244 360h1v1h-1zM244 358h1v1h-1zM245 361h1v1h-1zM245 357h1v1h-1zM246 362h1v1h-1zM246 356h1v1h-1zM247 363h1v1h-1zM247 355h1v1h-1zM261 357h9v1h-9zM265 353h1v9h-1zM261 353h1v1h-1zM261 361h1v1h-1zM262 354h1v1h-1zM262 360h1v1h-1zM263 355h1v1h-1zM263 359h1v1h-1zM264 356h1v1h-1zM264 358h1v1h-1zM266 358h1v1h-1zM266 356h1v1h-1zM267 359h1v1h-1zM267 355h1v1h-1zM268 360h1v1h-1zM268 354h1v1h-1zM269 361h1v1h-1zM269 353h1v1h-1zM274 353h9v1h-9zM278 349h1v9h-1zM274 349h1v1h-1zM274 357h1v1h-1zM275 350h1v1h-1zM275 356h1v1h-1zM276 351h1v1h-1zM276 355h1v1h-1zM277 352h1v1h-1zM277 354h1v1h-1zM279 354h1v1h-1zM279 352h1v1h-1zM280 355h1v1h-1zM280 351h1v1h-1zM281 356h1v1h-1zM281 350h1v1h-1zM282 357h1v1h-1zM282 349h1v1h-1zM316 347h9v1h-9zM320 343h1v9h-1zM316 343h1v1h-1zM316 351h1v1h-1zM317 344h1v1h-1zM317 350h1v1h-1zM318 345h1v1h-1zM318 349h1v1h-1zM319 346h1v1h-1zM319 348h1v1h-1zM321 348h1v1h-1zM321 346h1v1h-1zM322 349h1v1h-1zM322 345h1v1h-1zM323 350h1v1h-1zM323 344h1v1h-1zM324 351h1v1h-1zM324 343h1v1h-1zM322 345h9v1h-9zM326 341h1v9h-1zM322 341h1v1h-1zM322 349h1v1h-1zM323 342h1v1h-1zM323 348h1v1h-1zM324 343h1v1h-1zM324 347h1v1h-1zM325 344h1v1h-1zM325 346h1v1h-1zM327 346h1v1h-1zM327 344h1v1h-1zM328 347h1v1h-1zM328 343h1v1h-1zM329 348h1v1h-1zM329 342h1v1h-1zM330 349h1v1h-1zM330 341h1v1h-1zM242 378h9v1h-9zM246 374h1v9h-1zM242 374h1v1h-1zM242 382h1v1h-1zM243 375h1v1h-1zM243 381h1v1h-1zM244 376h1v1h-1zM244 380h1v1h-1zM245 377h1v1h-1zM245 379h1v1h-1zM247 379h1v1h-1zM247 377h1v1h-1zM248 380h1v1h-1zM248 376h1v1h-1zM249 381h1v1h-1zM249 375h1v1h-1zM250 382h1v1h-1zM250 374h1v1h-1zM326 378h9v1h-9zM330 374h1v9h-1zM326 374h1v1h-1zM326 382h1v1h-1zM327 375h1v1h-1zM327 381h1v1h-1zM328 376h1v1h-1zM328 380h1v1h-1zM329 377h1v1h-1zM329 379h1v1h-1zM331 379h1v1h-1zM331 377h1v1h-1zM332 380h1v1h-1zM332 376h1v1h-1zM333 381h1v1h-1zM333 375h1v1h-1zM334 382h1v1h-1zM334 374h1v1h-1zM258 389h9v1h-9zM262 385h1v9h-1zM258 385h1v1h-1zM258 393h1v1h-1zM259 386h1v1h-1zM259 392h1v1h-1zM260 387h1v1h-1zM260 391h1v1h-1zM261 388h1v1h-1zM261 390h1v1h-1zM263 390h1v1h-1zM263 388h1v1h-1zM264 391h1v1h-1zM264 387h1v1h-1zM265 392h1v1h-1zM265 386h1v1h-1zM266 393h1v1h-1zM266 385h1v1h-1zM266 402h9v1h-9zM270 398h1v9h-1zM266 398h1v1h-1zM266 406h1v1h-1zM267 399h1v1h-1zM267 405h1v1h-1zM268 400h1v1h-1zM268 404h1v1h-1zM269 401h1v1h-1zM269 403h1v1h-1zM271 403h1v1h-1zM271 401h1v1h-1zM272 404h1v1h-1zM272 400h1v1h-1zM273 405h1v1h-1zM273 399h1v1h-1zM274 406h1v1h-1zM274 398h1v1h-1zM277 411h9v1h-9zM281 407h1v9h-1zM277 407h1v1h-1zM277 415h1v1h-1zM278 408h1v1h-1zM278 414h1v1h-1zM279 409h1v1h-1zM279 413h1v1h-1zM280 410h1v1h-1zM280 412h1v1h-1zM282 412h1v1h-1zM282 410h1v1h-1zM283 413h1v1h-1zM283 409h1v1h-1zM284 414h1v1h-1zM284 408h1v1h-1zM285 415h1v1h-1zM285 407h1v1h-1zM311 402h9v1h-9zM315 398h1v9h-1zM311 398h1v1h-1zM311 406h1v1h-1zM312 399h1v1h-1zM312 405h1v1h-1zM313 400h1v1h-1zM313 404h1v1h-1zM314 401h1v1h-1zM314 403h1v1h-1zM316 403h1v1h-1zM316 401h1v1h-1zM317 404h1v1h-1zM317 400h1v1h-1zM318 405h1v1h-1zM318 399h1v1h-1zM319 406h1v1h-1zM319 398h1v1h-1zM244 417h9v1h-9zM248 413h1v9h-1zM244 413h1v1h-1zM244 421h1v1h-1zM245 414h1v1h-1zM245 420h1v1h-1zM246 415h1v1h-1zM246 419h1v1h-1zM247 416h1v1h-1zM247 418h1v1h-1zM249 418h1v1h-1zM249 416h1v1h-1zM250 419h1v1h-1zM250 415h1v1h-1zM251 420h1v1h-1zM251 414h1v1h-1zM252 421h1v1h-1zM252 413h1v1h-1zM239 425h9v1h-9zM243 421h1v9h-1zM239 421h1v1h-1zM239 429h1v1h-1zM240 422h1v1h-1zM240 428h1v1h-1zM241 423h1v1h-1zM241 427h1v1h-1zM242 424h1v1h-1zM242 426h1v1h-1zM244 426h1v1h-1zM244 424h1v1h-1zM245 427h1v1h-1zM245 423h1v1h-1zM246 428h1v1h-1zM246 422h1v1h-1zM247 429h1v1h-1zM247 421h1v1h-1zM261 430h9v1h-9zM265 426h1v9h-1zM261 426h1v1h-1zM261 434h1v1h-1zM262 427h1v1h-1zM262 433h1v1h-1zM263 428h1v1h-1zM263 432h1v1h-1zM264 429h1v1h-1zM264 431h1v1h-1zM266 431h1v1h-1zM266 429h1v1h-1zM267 432h1v1h-1zM267 428h1v1h-1zM268 433h1v1h-1zM268 427h1v1h-1zM269 434h1v1h-1zM269 426h1v1h-1zM238 438h9v1h-9zM242 434h1v9h-1zM238 434h1v1h-1zM238 442h1v1h-1zM239 435h1v1h-1zM239 441h1v1h-1zM240 436h1v1h-1zM240 440h1v1h-1zM241 437h1v1h-1zM241 439h1v1h-1zM243 439h1v1h-1zM243 437h1v1h-1zM244 440h1v1h-1zM244 436h1v1h-1zM245 441h1v1h-1zM245 435h1v1h-1zM246 442h1v1h-1zM246 434h1v1h-1zM238 442h9v1h-9zM242 438h1v9h-1zM238 438h1v1h-1zM238 446h1v1h-1zM239 439h1v1h-1zM239 445h1v1h-1zM240 440h1v1h-1zM240 444h1v1h-1zM241 441h1v1h-1zM241 443h1v1h-1zM243 443h1v1h-1zM243 441h1v1h-1zM244 444h1v1h-1zM244 440h1v1h-1zM245 445h1v1h-1zM245 439h1v1h-1zM246 446h1v1h-1zM246 438h1v1h-1zM238 448h9v1h-9zM242 444h1v9h-1zM238 444h1v1h-1zM238 452h1v1h-1zM239 445h1v1h-1zM239 451h1v1h-1zM240 446h1v1h-1zM240 450h1v1h-1zM241 447h1v1h-1zM241 449h1v1h-1zM243 449h1v1h-1zM243 447h1v1h-1zM244 450h1v1h-1zM244 446h1v1h-1zM245 451h1v1h-1zM245 445h1v1h-1zM246 452h1v1h-1zM246 444h1v1h-1zM242 447h9v1h-9zM246 443h1v9h-1zM242 443h1v1h-1zM242 451h1v1h-1zM243 444h1v1h-1zM243 450h1v1h-1zM244 445h1v1h-1zM244 449h1v1h-1zM245 446h1v1h-1zM245 448h1v1h-1zM247 448h1v1h-1zM247 446h1v1h-1zM248 449h1v1h-1zM248 445h1v1h-1zM249 450h1v1h-1zM249 444h1v1h-1zM250 451h1v1h-1zM250 443h1v1h-1zM239 445h9v1h-9zM243 441h1v9h-1zM239 441h1v1h-1zM239 449h1v1h-1zM240 442h1v1h-1zM240 448h1v1h-1zM241 443h1v1h-1zM241 447h1v1h-1zM242 444h1v1h-1zM242 446h1v1h-1zM244 446h1v1h-1zM244 444h1v1h-1zM245 447h1v1h-1zM245 443h1v1h-1zM246 448h1v1h-1zM246 442h1v1h-1zM247 449h1v1h-1zM247 441h1v1h-1zM243 454h9v1h-9zM247 450h1v9h-1zM243 450h1v1h-1zM243 458h1v1h-1zM244 451h1v1h-1zM244 457h1v1h-1zM245 452h1v1h-1zM245 456h1v1h-1zM246 453h1v1h-1zM246 455h1v1h-1zM248 455h1v1h-1zM248 453h1v1h-1zM249 456h1v1h-1zM249 452h1v1h-1zM250 457h1v1h-1zM250 451h1v1h-1zM251 458h1v1h-1zM251 450h1v1h-1zM242 461h9v1h-9zM246 457h1v9h-1zM242 457h1v1h-1zM242 465h1v1h-1zM243 458h1v1h-1zM243 464h1v1h-1zM244 459h1v1h-1zM244 463h1v1h-1zM245 460h1v1h-1zM245 462h1v1h-1zM247 462h1v1h-1zM247 460h1v1h-1zM248 463h1v1h-1zM248 459h1v1h-1zM249 464h1v1h-1zM249 458h1v1h-1zM250 465h1v1h-1zM250 457h1v1h-1zM260 459h9v1h-9zM264 455h1v9h-1zM260 455h1v1h-1zM260 463h1v1h-1zM261 456h1v1h-1zM261 462h1v1h-1zM262 457h1v1h-1zM262 461h1v1h-1zM263 458h1v1h-1zM263 460h1v1h-1zM265 460h1v1h-1zM265 458h1v1h-1zM266 461h1v1h-1zM266 457h1v1h-1zM267 462h1v1h-1zM267 456h1v1h-1zM268 463h1v1h-1zM268 455h1v1h-1zM260 460h9v1h-9zM264 456h1v9h-1zM260 456h1v1h-1zM260 464h1v1h-1zM261 457h1v1h-1zM261 463h1v1h-1zM262 458h1v1h-1zM262 462h1v1h-1zM263 459h1v1h-1zM263 461h1v1h-1zM265 461h1v1h-1zM265 459h1v1h-1zM266 462h1v1h-1zM266 458h1v1h-1zM267 463h1v1h-1zM267 457h1v1h-1zM268 464h1v1h-1zM268 456h1v1h-1zM261 466h9v1h-9zM265 462h1v9h-1zM261 462h1v1h-1zM261 470h1v1h-1zM262 463h1v1h-1zM262 469h1v1h-1zM263 464h1v1h-1zM263 468h1v1h-1zM264 465h1v1h-1zM264 467h1v1h-1zM266 467h1v1h-1zM266 465h1v1h-1zM267 468h1v1h-1zM267 464h1v1h-1zM268 469h1v1h-1zM268 463h1v1h-1zM269 470h1v1h-1zM269 462h1v1h-1zM264 469h9v1h-9zM268 465h1v9h-1zM264 465h1v1h-1zM264 473h1v1h-1zM265 466h1v1h-1zM265 472h1v1h-1zM266 467h1v1h-1zM266 471h1v1h-1zM267 468h1v1h-1zM267 470h1v1h-1zM269 470h1v1h-1zM269 468h1v1h-1zM270 471h1v1h-1zM270 467h1v1h-1zM271 472h1v1h-1zM271 466h1v1h-1zM272 473h1v1h-1zM272 465h1v1h-1zM258 472h9v1h-9zM262 468h1v9h-1zM258 468h1v1h-1zM258 476h1v1h-1zM259 469h1v1h-1zM259 475h1v1h-1zM260 470h1v1h-1zM260 474h1v1h-1zM261 471h1v1h-1zM261 473h1v1h-1zM263 473h1v1h-1zM263 471h1v1h-1zM264 474h1v1h-1zM264 470h1v1h-1zM265 475h1v1h-1zM265 469h1v1h-1zM266 476h1v1h-1zM266 468h1v1h-1zM259 476h9v1h-9zM263 472h1v9h-1zM259 472h1v1h-1zM259 480h1v1h-1zM260 473h1v1h-1zM260 479h1v1h-1zM261 474h1v1h-1zM261 478h1v1h-1zM262 475h1v1h-1zM262 477h1v1h-1zM264 477h1v1h-1zM264 475h1v1h-1zM265 478h1v1h-1zM265 474h1v1h-1zM266 479h1v1h-1zM266 473h1v1h-1zM267 480h1v1h-1zM267 472h1v1h-1zM411 190h9v1h-9zM415 186h1v9h-1zM411 186h1v1h-1zM411 194h1v1h-1zM412 187h1v1h-1zM412 193h1v1h-1zM413 188h1v1h-1zM413 192h1v1h-1zM414 189h1v1h-1zM414 191h1v1h-1zM416 191h1v1h-1zM416 189h1v1h-1zM417 192h1v1h-1zM417 188h1v1h-1zM418 193h1v1h-1zM418 187h1v1h-1zM419 194h1v1h-1zM419 186h1v1h-1zM408 265h9v1h-9zM412 261h1v9h-1zM408 261h1v1h-1zM408 269h1v1h-1zM409 262h1v1h-1zM409 268h1v1h-1zM410 263h1v1h-1zM410 267h1v1h-1zM411 264h1v1h-1zM411 266h1v1h-1zM413 266h1v1h-1zM413 264h1v1h-1zM414 267h1v1h-1zM414 263h1v1h-1zM415 268h1v1h-1zM415 262h1v1h-1zM416 269h1v1h-1zM416 261h1v1h-1zM425 281h9v1h-9zM429 277h1v9h-1zM425 277h1v1h-1zM425 285h1v1h-1zM426 278h1v1h-1zM426 284h1v1h-1zM427 279h1v1h-1zM427 283h1v1h-1zM428 280h1v1h-1zM428 282h1v1h-1zM430 282h1v1h-1zM430 280h1v1h-1zM431 283h1v1h-1zM431 279h1v1h-1zM432 284h1v1h-1zM432 278h1v1h-1zM433 285h1v1h-1zM433 277h1v1h-1zM405 287h9v1h-9zM409 283h1v9h-1zM405 283h1v1h-1zM405 291h1v1h-1zM406 284h1v1h-1zM406 290h1v1h-1zM407 285h1v1h-1zM407 289h1v1h-1zM408 286h1v1h-1zM408 288h1v1h-1zM410 288h1v1h-1zM410 286h1v1h-1zM411 289h1v1h-1zM411 285h1v1h-1zM412 290h1v1h-1zM412 284h1v1h-1zM413 291h1v1h-1zM413 283h1v1h-1zM348 344h9v1h-9zM352 340h1v9h-1zM348 340h1v1h-1zM348 348h1v1h-1zM349 341h1v1h-1zM349 347h1v1h-1zM350 342h1v1h-1zM350 346h1v1h-1zM351 343h1v1h-1zM351 345h1v1h-1zM353 345h1v1h-1zM353 343h1v1h-1zM354 346h1v1h-1zM354 342h1v1h-1zM355 347h1v1h-1zM355 341h1v1h-1zM356 348h1v1h-1zM356 340h1v1h-1zM400 348h9v1h-9zM404 344h1v9h-1zM400 344h1v1h-1zM400 352h1v1h-1zM401 345h1v1h-1zM401 351h1v1h-1zM402 346h1v1h-1zM402 350h1v1h-1zM403 347h1v1h-1zM403 349h1v1h-1zM405 349h1v1h-1zM405 347h1v1h-1zM406 350h1v1h-1zM406 346h1v1h-1zM407 351h1v1h-1zM407 345h1v1h-1zM408 352h1v1h-1zM408 344h1v1h-1zM344 384h9v1h-9zM348 380h1v9h-1zM344 380h1v1h-1zM344 388h1v1h-1zM345 381h1v1h-1zM345 387h1v1h-1zM346 382h1v1h-1zM346 386h1v1h-1zM347 383h1v1h-1zM347 385h1v1h-1zM349 385h1v1h-1zM349 383h1v1h-1zM350 386h1v1h-1zM350 382h1v1h-1zM351 387h1v1h-1zM351 381h1v1h-1zM352 388h1v1h-1zM352 380h1v1h-1zM395 365h9v1h-9zM399 361h1v9h-1zM395 361h1v1h-1zM395 369h1v1h-1zM396 362h1v1h-1zM396 368h1v1h-1zM397 363h1v1h-1zM397 367h1v1h-1zM398 364h1v1h-1zM398 366h1v1h-1zM400 366h1v1h-1zM400 364h1v1h-1zM401 367h1v1h-1zM401 363h1v1h-1zM402 368h1v1h-1zM402 362h1v1h-1zM403 369h1v1h-1zM403 361h1v1h-1zM398 376h9v1h-9zM402 372h1v9h-1zM398 372h1v1h-1zM398 380h1v1h-1zM399 373h1v1h-1zM399 379h1v1h-1zM400 374h1v1h-1zM400 378h1v1h-1zM401 375h1v1h-1zM401 377h1v1h-1zM403 377h1v1h-1zM403 375h1v1h-1zM404 378h1v1h-1zM404 374h1v1h-1zM405 379h1v1h-1zM405 373h1v1h-1zM406 380h1v1h-1zM406 372h1v1h-1zM403 384h9v1h-9zM407 380h1v9h-1zM403 380h1v1h-1zM403 388h1v1h-1zM404 381h1v1h-1zM404 387h1v1h-1zM405 382h1v1h-1zM405 386h1v1h-1zM406 383h1v1h-1zM406 385h1v1h-1zM408 385h1v1h-1zM408 383h1v1h-1zM409 386h1v1h-1zM409 382h1v1h-1zM410 387h1v1h-1zM410 381h1v1h-1zM411 388h1v1h-1zM411 380h1v1h-1zM393 412h9v1h-9zM397 408h1v9h-1zM393 408h1v1h-1zM393 416h1v1h-1zM394 409h1v1h-1zM394 415h1v1h-1zM395 410h1v1h-1zM395 414h1v1h-1zM396 411h1v1h-1zM396 413h1v1h-1zM398 413h1v1h-1zM398 411h1v1h-1zM399 414h1v1h-1zM399 410h1v1h-1zM400 415h1v1h-1zM400 409h1v1h-1zM401 416h1v1h-1zM401 408h1v1h-1zM350 441h9v1h-9zM354 437h1v9h-1zM350 437h1v1h-1zM350 445h1v1h-1zM351 438h1v1h-1zM351 444h1v1h-1zM352 439h1v1h-1zM352 443h1v1h-1zM353 440h1v1h-1zM353 442h1v1h-1zM355 442h1v1h-1zM355 440h1v1h-1zM356 443h1v1h-1zM356 439h1v1h-1zM357 444h1v1h-1zM357 438h1v1h-1zM358 445h1v1h-1zM358 437h1v1h-1zM345 448h9v1h-9zM349 444h1v9h-1zM345 444h1v1h-1zM345 452h1v1h-1zM346 445h1v1h-1zM346 451h1v1h-1zM347 446h1v1h-1zM347 450h1v1h-1zM348 447h1v1h-1zM348 449h1v1h-1zM350 449h1v1h-1zM350 447h1v1h-1zM351 450h1v1h-1zM351 446h1v1h-1zM352 451h1v1h-1zM352 445h1v1h-1zM353 452h1v1h-1zM353 444h1v1h-1zM347 457h9v1h-9zM351 453h1v9h-1zM347 453h1v1h-1zM347 461h1v1h-1zM348 454h1v1h-1zM348 460h1v1h-1zM349 455h1v1h-1zM349 459h1v1h-1zM350 456h1v1h-1zM350 458h1v1h-1zM352 458h1v1h-1zM352 456h1v1h-1zM353 459h1v1h-1zM353 455h1v1h-1zM354 460h1v1h-1zM354 454h1v1h-1zM355 461h1v1h-1zM355 453h1v1h-1zM391 459h9v1h-9zM395 455h1v9h-1zM391 455h1v1h-1zM391 463h1v1h-1zM392 456h1v1h-1zM392 462h1v1h-1zM393 457h1v1h-1zM393 461h1v1h-1zM394 458h1v1h-1zM394 460h1v1h-1zM396 460h1v1h-1zM396 458h1v1h-1zM397 461h1v1h-1zM397 457h1v1h-1zM398 462h1v1h-1zM398 456h1v1h-1zM399 463h1v1h-1zM399 455h1v1h-1zM351 479h9v1h-9zM355 475h1v9h-1zM351 475h1v1h-1zM351 483h1v1h-1zM352 476h1v1h-1zM352 482h1v1h-1zM353 477h1v1h-1zM353 481h1v1h-1zM354 478h1v1h-1zM354 480h1v1h-1zM356 480h1v1h-1zM356 478h1v1h-1zM357 481h1v1h-1zM357 477h1v1h-1zM358 482h1v1h-1zM358 476h1v1h-1zM359 483h1v1h-1zM359 475h1v1h-1zM353 486h9v1h-9zM357 482h1v9h-1zM353 482h1v1h-1zM353 490h1v1h-1zM354 483h1v1h-1zM354 489h1v1h-1zM355 484h1v1h-1zM355 488h1v1h-1zM356 485h1v1h-1zM356 487h1v1h-1zM358 487h1v1h-1zM358 485h1v1h-1zM359 488h1v1h-1zM359 484h1v1h-1zM360 489h1v1h-1zM360 483h1v1h-1zM361 490h1v1h-1zM361 482h1v1h-1zM356 488h9v1h-9zM360 484h1v9h-1zM356 484h1v1h-1zM356 492h1v1h-1zM357 485h1v1h-1zM357 491h1v1h-1zM358 486h1v1h-1zM358 490h1v1h-1zM359 487h1v1h-1zM359 489h1v1h-1zM361 489h1v1h-1zM361 487h1v1h-1zM362 490h1v1h-1zM362 486h1v1h-1zM363 491h1v1h-1zM363 485h1v1h-1zM364 492h1v1h-1zM364 484h1v1h-1zM359 487h9v1h-9zM363 483h1v9h-1zM359 483h1v1h-1zM359 491h1v1h-1zM360 484h1v1h-1zM360 490h1v1h-1zM361 485h1v1h-1zM361 489h1v1h-1zM362 486h1v1h-1zM362 488h1v1h-1zM364 488h1v1h-1zM364 486h1v1h-1zM365 489h1v1h-1zM365 485h1v1h-1zM366 490h1v1h-1zM366 484h1v1h-1zM367 491h1v1h-1zM367 483h1v1h-1zM362 485h9v1h-9zM366 481h1v9h-1zM362 481h1v1h-1zM362 489h1v1h-1zM363 482h1v1h-1zM363 488h1v1h-1zM364 483h1v1h-1zM364 487h1v1h-1zM365 484h1v1h-1zM365 486h1v1h-1zM367 486h1v1h-1zM367 484h1v1h-1zM368 487h1v1h-1zM368 483h1v1h-1zM369 488h1v1h-1zM369 482h1v1h-1zM370 489h1v1h-1zM370 481h1v1h-1zM364 478h9v1h-9zM368 474h1v9h-1zM364 474h1v1h-1zM364 482h1v1h-1zM365 475h1v1h-1zM365 481h1v1h-1zM366 476h1v1h-1zM366 480h1v1h-1zM367 477h1v1h-1zM367 479h1v1h-1zM369 479h1v1h-1zM369 477h1v1h-1zM370 480h1v1h-1zM370 476h1v1h-1zM371 481h1v1h-1zM371 475h1v1h-1zM372 482h1v1h-1zM372 474h1v1h-1zM366 483h9v1h-9zM370 479h1v9h-1zM366 479h1v1h-1zM366 487h1v1h-1zM367 480h1v1h-1zM367 486h1v1h-1zM368 481h1v1h-1zM368 485h1v1h-1zM369 482h1v1h-1zM369 484h1v1h-1zM371 484h1v1h-1zM371 482h1v1h-1zM372 485h1v1h-1zM372 481h1v1h-1zM373 486h1v1h-1zM373 480h1v1h-1zM374 487h1v1h-1zM374 479h1v1h-1zM367 479h9v1h-9zM371 475h1v9h-1zM367 475h1v1h-1zM367 483h1v1h-1zM368 476h1v1h-1zM368 482h1v1h-1zM369 477h1v1h-1zM369 481h1v1h-1zM370 478h1v1h-1zM370 480h1v1h-1zM372 480h1v1h-1zM372 478h1v1h-1zM373 481h1v1h-1zM373 477h1v1h-1zM374 482h1v1h-1zM374 476h1v1h-1zM375 483h1v1h-1zM375 475h1v1h-1zM370 483h9v1h-9zM374 479h1v9h-1zM370 479h1v1h-1zM370 487h1v1h-1zM371 480h1v1h-1zM371 486h1v1h-1zM372 481h1v1h-1zM372 485h1v1h-1zM373 482h1v1h-1zM373 484h1v1h-1zM375 484h1v1h-1zM375 482h1v1h-1zM376 485h1v1h-1zM376 481h1v1h-1zM377 486h1v1h-1zM377 480h1v1h-1zM378 487h1v1h-1zM378 479h1v1h-1zM373 482h9v1h-9zM377 478h1v9h-1zM373 478h1v1h-1zM373 486h1v1h-1zM374 479h1v1h-1zM374 485h1v1h-1zM375 480h1v1h-1zM375 484h1v1h-1zM376 481h1v1h-1zM376 483h1v1h-1zM378 483h1v1h-1zM378 481h1v1h-1zM379 484h1v1h-1zM379 480h1v1h-1zM380 485h1v1h-1zM380 479h1v1h-1zM381 486h1v1h-1zM381 478h1v1h-1zM374 480h9v1h-9zM378 476h1v9h-1zM374 476h1v1h-1zM374 484h1v1h-1zM375 477h1v1h-1zM375 483h1v1h-1zM376 478h1v1h-1zM376 482h1v1h-1zM377 479h1v1h-1zM377 481h1v1h-1zM379 481h1v1h-1zM379 479h1v1h-1zM380 482h1v1h-1zM380 478h1v1h-1zM381 483h1v1h-1zM381 477h1v1h-1zM382 484h1v1h-1zM382 476h1v1h-1zM376 480h9v1h-9zM380 476h1v9h-1zM376 476h1v1h-1zM376 484h1v1h-1zM377 477h1v1h-1zM377 483h1v1h-1zM378 478h1v1h-1zM378 482h1v1h-1zM379 479h1v1h-1zM379 481h1v1h-1zM381 481h1v1h-1zM381 479h1v1h-1zM382 482h1v1h-1zM382 478h1v1h-1zM383 483h1v1h-1zM383 477h1v1h-1zM384 484h1v1h-1zM384 476h1v1h-1zM378 478h9v1h-9zM382 474h1v9h-1zM378 474h1v1h-1zM378 482h1v1h-1zM379 475h1v1h-1zM379 481h1v1h-1zM380 476h1v1h-1zM380 480h1v1h-1zM381 477h1v1h-1zM381 479h1v1h-1zM383 479h1v1h-1zM383 477h1v1h-1zM384 480h1v1h-1zM384 476h1v1h-1zM385 481h1v1h-1zM385 475h1v1h-1zM386 482h1v1h-1zM386 474h1v1h-1zM380 475h9v1h-9zM384 471h1v9h-1zM380 471h1v1h-1zM380 479h1v1h-1zM381 472h1v1h-1zM381 478h1v1h-1zM382 473h1v1h-1zM382 477h1v1h-1zM383 474h1v1h-1zM383 476h1v1h-1zM385 476h1v1h-1zM385 474h1v1h-1zM386 477h1v1h-1zM386 473h1v1h-1zM387 478h1v1h-1zM387 472h1v1h-1zM388 479h1v1h-1zM388 471h1v1h-1zM382 472h9v1h-9zM386 468h1v9h-1zM382 468h1v1h-1zM382 476h1v1h-1zM383 469h1v1h-1zM383 475h1v1h-1zM384 470h1v1h-1zM384 474h1v1h-1zM385 471h1v1h-1zM385 473h1v1h-1zM387 473h1v1h-1zM387 471h1v1h-1zM388 474h1v1h-1zM388 470h1v1h-1zM389 475h1v1h-1zM389 469h1v1h-1zM390 476h1v1h-1zM390 468h1v1h-1zM384 469h9v1h-9zM388 465h1v9h-1zM384 465h1v1h-1zM384 473h1v1h-1zM385 466h1v1h-1zM385 472h1v1h-1zM386 467h1v1h-1zM386 471h1v1h-1zM387 468h1v1h-1zM387 470h1v1h-1zM389 470h1v1h-1zM389 468h1v1h-1zM390 471h1v1h-1zM390 467h1v1h-1zM391 472h1v1h-1zM391 466h1v1h-1zM392 473h1v1h-1zM392 465h1v1h-1zM386 467h9v1h-9zM390 463h1v9h-1zM386 463h1v1h-1zM386 471h1v1h-1zM387 464h1v1h-1zM387 470h1v1h-1zM388 465h1v1h-1zM388 469h1v1h-1zM389 466h1v1h-1zM389 468h1v1h-1zM391 468h1v1h-1zM391 466h1v1h-1zM392 469h1v1h-1zM392 465h1v1h-1zM393 470h1v1h-1zM393 464h1v1h-1zM394 471h1v1h-1zM394 463h1v1h-1zM388 465h9v1h-9zM392 461h1v9h-1zM388 461h1v1h-1zM388 469h1v1h-1zM389 462h1v1h-1zM389 468h1v1h-1zM390 463h1v1h-1zM390 467h1v1h-1zM391 464h1v1h-1zM391 466h1v1h-1zM393 466h1v1h-1zM393 464h1v1h-1zM394 467h1v1h-1zM394 463h1v1h-1zM395 468h1v1h-1zM395 462h1v1h-1zM396 469h1v1h-1zM396 461h1v1h-1zM474 554h9v1h-9zM478 550h1v9h-1zM474 550h1v1h-1zM474 558h1v1h-1zM475 551h1v1h-1zM475 557h1v1h-1zM476 552h1v1h-1zM476 556h1v1h-1zM477 553h1v1h-1zM477 555h1v1h-1zM479 555h1v1h-1zM479 553h1v1h-1zM480 556h1v1h-1zM480 552h1v1h-1zM481 557h1v1h-1zM481 551h1v1h-1zM482 558h1v1h-1zM482 550h1v1h-1zM495 541h9v1h-9zM499 537h1v9h-1zM495 537h1v1h-1zM495 545h1v1h-1zM496 538h1v1h-1zM496 544h1v1h-1zM497 539h1v1h-1zM497 543h1v1h-1zM498 540h1v1h-1zM498 542h1v1h-1zM500 542h1v1h-1zM500 540h1v1h-1zM501 543h1v1h-1zM501 539h1v1h-1zM502 544h1v1h-1zM502 538h1v1h-1zM503 545h1v1h-1zM503 537h1v1h-1zM499 561h9v1h-9zM503 557h1v9h-1zM499 557h1v1h-1zM499 565h1v1h-1zM500 558h1v1h-1zM500 564h1v1h-1zM501 559h1v1h-1zM501 563h1v1h-1zM502 560h1v1h-1zM502 562h1v1h-1zM504 562h1v1h-1zM504 560h1v1h-1zM505 563h1v1h-1zM505 559h1v1h-1zM506 564h1v1h-1zM506 558h1v1h-1zM507 565h1v1h-1zM507 557h1v1h-1zM504 555h9v1h-9zM508 551h1v9h-1zM504 551h1v1h-1zM504 559h1v1h-1zM505 552h1v1h-1zM505 558h1v1h-1zM506 553h1v1h-1zM506 557h1v1h-1zM507 554h1v1h-1zM507 556h1v1h-1zM509 556h1v1h-1zM509 554h1v1h-1zM510 557h1v1h-1zM510 553h1v1h-1zM511 558h1v1h-1zM511 552h1v1h-1zM512 559h1v1h-1zM512 551h1v1h-1zM509 552h9v1h-9zM513 548h1v9h-1zM509 548h1v1h-1zM509 556h1v1h-1zM510 549h1v1h-1zM510 555h1v1h-1zM511 550h1v1h-1zM511 554h1v1h-1zM512 551h1v1h-1zM512 553h1v1h-1zM514 553h1v1h-1zM514 551h1v1h-1zM515 554h1v1h-1zM515 550h1v1h-1zM516 555h1v1h-1zM516 549h1v1h-1zM517 556h1v1h-1zM517 548h1v1h-1zM514 552h9v1h-9zM518 548h1v9h-1zM514 548h1v1h-1zM514 556h1v1h-1zM515 549h1v1h-1zM515 555h1v1h-1zM516 550h1v1h-1zM516 554h1v1h-1zM517 551h1v1h-1zM517 553h1v1h-1zM519 553h1v1h-1zM519 551h1v1h-1zM520 554h1v1h-1zM520 550h1v1h-1zM521 555h1v1h-1zM521 549h1v1h-1zM522 556h1v1h-1zM522 548h1v1h-1zM518 555h9v1h-9zM522 551h1v9h-1zM518 551h1v1h-1zM518 559h1v1h-1zM519 552h1v1h-1zM519 558h1v1h-1zM520 553h1v1h-1zM520 557h1v1h-1zM521 554h1v1h-1zM521 556h1v1h-1zM523 556h1v1h-1zM523 554h1v1h-1zM524 557h1v1h-1zM524 553h1v1h-1zM525 558h1v1h-1zM525 552h1v1h-1zM526 559h1v1h-1zM526 551h1v1h-1zM526 555h9v1h-9zM530 551h1v9h-1zM526 551h1v1h-1zM526 559h1v1h-1zM527 552h1v1h-1zM527 558h1v1h-1zM528 553h1v1h-1zM528 557h1v1h-1zM529 554h1v1h-1zM529 556h1v1h-1zM531 556h1v1h-1zM531 554h1v1h-1zM532 557h1v1h-1zM532 553h1v1h-1zM533 558h1v1h-1zM533 552h1v1h-1zM534 559h1v1h-1zM534 551h1v1h-1zM530 554h9v1h-9zM534 550h1v9h-1zM530 550h1v1h-1zM530 558h1v1h-1zM531 551h1v1h-1zM531 557h1v1h-1zM532 552h1v1h-1zM532 556h1v1h-1zM533 553h1v1h-1zM533 555h1v1h-1zM535 555h1v1h-1zM535 553h1v1h-1zM536 556h1v1h-1zM536 552h1v1h-1zM537 557h1v1h-1zM537 551h1v1h-1zM538 558h1v1h-1zM538 550h1v1h-1zM536 555h9v1h-9zM540 551h1v9h-1zM536 551h1v1h-1zM536 559h1v1h-1zM537 552h1v1h-1zM537 558h1v1h-1zM538 553h1v1h-1zM538 557h1v1h-1zM539 554h1v1h-1zM539 556h1v1h-1zM541 556h1v1h-1zM541 554h1v1h-1zM542 557h1v1h-1zM542 553h1v1h-1zM543 558h1v1h-1zM543 552h1v1h-1zM544 559h1v1h-1zM544 551h1v1h-1zM541 557h9v1h-9zM545 553h1v9h-1zM541 553h1v1h-1zM541 561h1v1h-1zM542 554h1v1h-1zM542 560h1v1h-1zM543 555h1v1h-1zM543 559h1v1h-1zM544 556h1v1h-1zM544 558h1v1h-1zM546 558h1v1h-1zM546 556h1v1h-1zM547 559h1v1h-1zM547 555h1v1h-1zM548 560h1v1h-1zM548 554h1v1h-1zM549 561h1v1h-1zM549 553h1v1h-1zM547 560h9v1h-9zM551 556h1v9h-1zM547 556h1v1h-1zM547 564h1v1h-1zM548 557h1v1h-1zM548 563h1v1h-1zM549 558h1v1h-1zM549 562h1v1h-1zM550 559h1v1h-1zM550 561h1v1h-1zM552 561h1v1h-1zM552 559h1v1h-1zM553 562h1v1h-1zM553 558h1v1h-1zM554 563h1v1h-1zM554 557h1v1h-1zM555 564h1v1h-1zM555 556h1v1h-1zM554 562h9v1h-9zM558 558h1v9h-1zM554 558h1v1h-1zM554 566h1v1h-1zM555 559h1v1h-1zM555 565h1v1h-1zM556 560h1v1h-1zM556 564h1v1h-1zM557 561h1v1h-1zM557 563h1v1h-1zM559 563h1v1h-1zM559 561h1v1h-1zM560 564h1v1h-1zM560 560h1v1h-1zM561 565h1v1h-1zM561 559h1v1h-1zM562 566h1v1h-1zM562 558h1v1h-1zM560 564h9v1h-9zM564 560h1v9h-1zM560 560h1v1h-1zM560 568h1v1h-1zM561 561h1v1h-1zM561 567h1v1h-1zM562 562h1v1h-1zM562 566h1v1h-1zM563 563h1v1h-1zM563 565h1v1h-1zM565 565h1v1h-1zM565 563h1v1h-1zM566 566h1v1h-1zM566 562h1v1h-1zM567 567h1v1h-1zM567 561h1v1h-1zM568 568h1v1h-1zM568 560h1v1h-1zM566 566h9v1h-9zM570 562h1v9h-1zM566 562h1v1h-1zM566 570h1v1h-1zM567 563h1v1h-1zM567 569h1v1h-1zM568 564h1v1h-1zM568 568h1v1h-1zM569 565h1v1h-1zM569 567h1v1h-1zM571 567h1v1h-1zM571 565h1v1h-1zM572 568h1v1h-1zM572 564h1v1h-1zM573 569h1v1h-1zM573 563h1v1h-1zM574 570h1v1h-1zM574 562h1v1h-1zM573 566h9v1h-9zM577 562h1v9h-1zM573 562h1v1h-1zM573 570h1v1h-1zM574 563h1v1h-1zM574 569h1v1h-1zM575 564h1v1h-1zM575 568h1v1h-1zM576 565h1v1h-1zM576 567h1v1h-1zM578 567h1v1h-1zM578 565h1v1h-1zM579 568h1v1h-1zM579 564h1v1h-1zM580 569h1v1h-1zM580 563h1v1h-1zM581 570h1v1h-1zM581 562h1v1h-1zM580 567h9v1h-9zM584 563h1v9h-1zM580 563h1v1h-1zM580 571h1v1h-1zM581 564h1v1h-1zM581 570h1v1h-1zM582 565h1v1h-1zM582 569h1v1h-1zM583 566h1v1h-1zM583 568h1v1h-1zM585 568h1v1h-1zM585 566h1v1h-1zM586 569h1v1h-1zM586 565h1v1h-1zM587 570h1v1h-1zM587 564h1v1h-1zM588 571h1v1h-1zM588 563h1v1h-1zM587 567h9v1h-9zM591 563h1v9h-1zM587 563h1v1h-1zM587 571h1v1h-1zM588 564h1v1h-1zM588 570h1v1h-1zM589 565h1v1h-1zM589 569h1v1h-1zM590 566h1v1h-1zM590 568h1v1h-1zM592 568h1v1h-1zM592 566h1v1h-1zM593 569h1v1h-1zM593 565h1v1h-1zM594 570h1v1h-1zM594 564h1v1h-1zM595 571h1v1h-1zM595 563h1v1h-1zM594 564h9v1h-9zM598 560h1v9h-1zM594 560h1v1h-1zM594 568h1v1h-1zM595 561h1v1h-1zM595 567h1v1h-1zM596 562h1v1h-1zM596 566h1v1h-1zM597 563h1v1h-1zM597 565h1v1h-1zM599 565h1v1h-1zM599 563h1v1h-1zM600 566h1v1h-1zM600 562h1v1h-1zM601 567h1v1h-1zM601 561h1v1h-1zM602 568h1v1h-1zM602 560h1v1h-1zM602 563h9v1h-9zM606 559h1v9h-1zM602 559h1v1h-1zM602 567h1v1h-1zM603 560h1v1h-1zM603 566h1v1h-1zM604 561h1v1h-1zM604 565h1v1h-1zM605 562h1v1h-1zM605 564h1v1h-1zM607 564h1v1h-1zM607 562h1v1h-1zM608 565h1v1h-1zM608 561h1v1h-1zM609 566h1v1h-1zM609 560h1v1h-1zM610 567h1v1h-1zM610 559h1v1h-1zM610 561h9v1h-9zM614 557h1v9h-1zM610 557h1v1h-1zM610 565h1v1h-1zM611 558h1v1h-1zM611 564h1v1h-1zM612 559h1v1h-1zM612 563h1v1h-1zM613 560h1v1h-1zM613 562h1v1h-1zM615 562h1v1h-1zM615 560h1v1h-1zM616 563h1v1h-1zM616 559h1v1h-1zM617 564h1v1h-1zM617 558h1v1h-1zM618 565h1v1h-1zM618 557h1v1h-1zM618 559h9v1h-9zM622 555h1v9h-1zM618 555h1v1h-1zM618 563h1v1h-1zM619 556h1v1h-1zM619 562h1v1h-1zM620 557h1v1h-1zM620 561h1v1h-1zM621 558h1v1h-1zM621 560h1v1h-1zM623 560h1v1h-1zM623 558h1v1h-1zM624 561h1v1h-1zM624 557h1v1h-1zM625 562h1v1h-1zM625 556h1v1h-1zM626 563h1v1h-1zM626 555h1v1h-1zM626 559h9v1h-9zM630 555h1v9h-1zM626 555h1v1h-1zM626 563h1v1h-1zM627 556h1v1h-1zM627 562h1v1h-1zM628 557h1v1h-1zM628 561h1v1h-1zM629 558h1v1h-1zM629 560h1v1h-1zM631 560h1v1h-1zM631 558h1v1h-1zM632 561h1v1h-1zM632 557h1v1h-1zM633 562h1v1h-1zM633 556h1v1h-1zM634 563h1v1h-1zM634 555h1v1h-1zM635 558h9v1h-9zM639 554h1v9h-1zM635 554h1v1h-1zM635 562h1v1h-1zM636 555h1v1h-1zM636 561h1v1h-1zM637 556h1v1h-1zM637 560h1v1h-1zM638 557h1v1h-1zM638 559h1v1h-1zM640 559h1v1h-1zM640 557h1v1h-1zM641 560h1v1h-1zM641 556h1v1h-1zM642 561h1v1h-1zM642 555h1v1h-1zM643 562h1v1h-1zM643 554h1v1h-1zM644 559h9v1h-9zM648 555h1v9h-1zM644 555h1v1h-1zM644 563h1v1h-1zM645 556h1v1h-1zM645 562h1v1h-1zM646 557h1v1h-1zM646 561h1v1h-1zM647 558h1v1h-1zM647 560h1v1h-1zM649 560h1v1h-1zM649 558h1v1h-1zM650 561h1v1h-1zM650 557h1v1h-1zM651 562h1v1h-1zM651 556h1v1h-1zM652 563h1v1h-1zM652 555h1v1h-1zM653 559h9v1h-9zM657 555h1v9h-1zM653 555h1v1h-1zM653 563h1v1h-1zM654 556h1v1h-1zM654 562h1v1h-1zM655 557h1v1h-1zM655 561h1v1h-1zM656 558h1v1h-1zM656 560h1v1h-1zM658 560h1v1h-1zM658 558h1v1h-1zM659 561h1v1h-1zM659 557h1v1h-1zM660 562h1v1h-1zM660 556h1v1h-1zM661 563h1v1h-1zM661 555h1v1h-1zM663 559h9v1h-9zM667 555h1v9h-1zM663 555h1v1h-1zM663 563h1v1h-1zM664 556h1v1h-1zM664 562h1v1h-1zM665 557h1v1h-1zM665 561h1v1h-1zM666 558h1v1h-1zM666 560h1v1h-1zM668 560h1v1h-1zM668 558h1v1h-1zM669 561h1v1h-1zM669 557h1v1h-1zM670 562h1v1h-1zM670 556h1v1h-1zM671 563h1v1h-1zM671 555h1v1h-1zM673 560h9v1h-9zM677 556h1v9h-1zM673 556h1v1h-1zM673 564h1v1h-1zM674 557h1v1h-1zM674 563h1v1h-1zM675 558h1v1h-1zM675 562h1v1h-1zM676 559h1v1h-1zM676 561h1v1h-1zM678 561h1v1h-1zM678 559h1v1h-1zM679 562h1v1h-1zM679 558h1v1h-1zM680 563h1v1h-1zM680 557h1v1h-1zM681 564h1v1h-1zM681 556h1v1h-1zM683 560h9v1h-9zM687 556h1v9h-1zM683 556h1v1h-1zM683 564h1v1h-1zM684 557h1v1h-1zM684 563h1v1h-1zM685 558h1v1h-1zM685 562h1v1h-1zM686 559h1v1h-1zM686 561h1v1h-1zM688 561h1v1h-1zM688 559h1v1h-1zM689 562h1v1h-1zM689 558h1v1h-1zM690 563h1v1h-1zM690 557h1v1h-1zM691 564h1v1h-1zM691 556h1v1h-1zM694 563h9v1h-9zM698 559h1v9h-1zM694 559h1v1h-1zM694 567h1v1h-1zM695 560h1v1h-1zM695 566h1v1h-1zM696 561h1v1h-1zM696 565h1v1h-1zM697 562h1v1h-1zM697 564h1v1h-1zM699 564h1v1h-1zM699 562h1v1h-1zM700 565h1v1h-1zM700 561h1v1h-1zM701 566h1v1h-1zM701 560h1v1h-1zM702 567h1v1h-1zM702 559h1v1h-1zM705 567h9v1h-9zM709 563h1v9h-1zM705 563h1v1h-1zM705 571h1v1h-1zM706 564h1v1h-1zM706 570h1v1h-1zM707 565h1v1h-1zM707 569h1v1h-1zM708 566h1v1h-1zM708 568h1v1h-1zM710 568h1v1h-1zM710 566h1v1h-1zM711 569h1v1h-1zM711 565h1v1h-1zM712 570h1v1h-1zM712 564h1v1h-1zM713 571h1v1h-1zM713 563h1v1h-1zM717 567h9v1h-9zM721 563h1v9h-1zM717 563h1v1h-1zM717 571h1v1h-1zM718 564h1v1h-1zM718 570h1v1h-1zM719 565h1v1h-1zM719 569h1v1h-1zM720 566h1v1h-1zM720 568h1v1h-1zM722 568h1v1h-1zM722 566h1v1h-1zM723 569h1v1h-1zM723 565h1v1h-1zM724 570h1v1h-1zM724 564h1v1h-1zM725 571h1v1h-1zM725 563h1v1h-1zM729 566h9v1h-9zM733 562h1v9h-1zM729 562h1v1h-1zM729 570h1v1h-1zM730 563h1v1h-1zM730 569h1v1h-1zM731 564h1v1h-1zM731 568h1v1h-1zM732 565h1v1h-1zM732 567h1v1h-1zM734 567h1v1h-1zM734 565h1v1h-1zM735 568h1v1h-1zM735 564h1v1h-1zM736 569h1v1h-1zM736 563h1v1h-1zM737 570h1v1h-1zM737 562h1v1h-1zM741 562h9v1h-9zM745 558h1v9h-1zM741 558h1v1h-1zM741 566h1v1h-1zM742 559h1v1h-1zM742 565h1v1h-1zM743 560h1v1h-1zM743 564h1v1h-1zM744 561h1v1h-1zM744 563h1v1h-1zM746 563h1v1h-1zM746 561h1v1h-1zM747 564h1v1h-1zM747 560h1v1h-1zM748 565h1v1h-1zM748 559h1v1h-1zM749 566h1v1h-1zM749 558h1v1h-1zM754 558h9v1h-9zM758 554h1v9h-1zM754 554h1v1h-1zM754 562h1v1h-1zM755 555h1v1h-1zM755 561h1v1h-1zM756 556h1v1h-1zM756 560h1v1h-1zM757 557h1v1h-1zM757 559h1v1h-1zM759 559h1v1h-1zM759 557h1v1h-1zM760 560h1v1h-1zM760 556h1v1h-1zM761 561h1v1h-1zM761 555h1v1h-1zM762 562h1v1h-1zM762 554h1v1h-1zM768 557h9v1h-9zM772 553h1v9h-1zM768 553h1v1h-1zM768 561h1v1h-1zM769 554h1v1h-1zM769 560h1v1h-1zM770 555h1v1h-1zM770 559h1v1h-1zM771 556h1v1h-1zM771 558h1v1h-1zM773 558h1v1h-1zM773 556h1v1h-1zM774 559h1v1h-1zM774 555h1v1h-1zM775 560h1v1h-1zM775 554h1v1h-1zM776 561h1v1h-1zM776 553h1v1h-1zM783 556h9v1h-9zM787 552h1v9h-1zM783 552h1v1h-1zM783 560h1v1h-1zM784 553h1v1h-1zM784 559h1v1h-1zM785 554h1v1h-1zM785 558h1v1h-1zM786 555h1v1h-1zM786 557h1v1h-1zM788 557h1v1h-1zM788 555h1v1h-1zM789 558h1v1h-1zM789 554h1v1h-1zM790 559h1v1h-1zM790 553h1v1h-1zM791 560h1v1h-1zM791 552h1v1h-1zM798 556h9v1h-9zM802 552h1v9h-1zM798 552h1v1h-1zM798 560h1v1h-1zM799 553h1v1h-1zM799 559h1v1h-1zM800 554h1v1h-1zM800 558h1v1h-1zM801 555h1v1h-1zM801 557h1v1h-1zM803 557h1v1h-1zM803 555h1v1h-1zM804 558h1v1h-1zM804 554h1v1h-1zM805 559h1v1h-1zM805 553h1v1h-1zM806 560h1v1h-1zM806 552h1v1h-1zM813 556h9v1h-9zM817 552h1v9h-1zM813 552h1v1h-1zM813 560h1v1h-1zM814 553h1v1h-1zM814 559h1v1h-1zM815 554h1v1h-1zM815 558h1v1h-1zM816 555h1v1h-1zM816 557h1v1h-1zM818 557h1v1h-1zM818 555h1v1h-1zM819 558h1v1h-1zM819 554h1v1h-1zM820 559h1v1h-1zM820 553h1v1h-1zM821 560h1v1h-1zM821 552h1v1h-1zM830 557h9v1h-9zM834 553h1v9h-1zM830 553h1v1h-1zM830 561h1v1h-1zM831 554h1v1h-1zM831 560h1v1h-1zM832 555h1v1h-1zM832 559h1v1h-1zM833 556h1v1h-1zM833 558h1v1h-1zM835 558h1v1h-1zM835 556h1v1h-1zM836 559h1v1h-1zM836 555h1v1h-1zM837 560h1v1h-1zM837 554h1v1h-1zM838 561h1v1h-1zM838 553h1v1h-1zM847 559h9v1h-9zM851 555h1v9h-1zM847 555h1v1h-1zM847 563h1v1h-1zM848 556h1v1h-1zM848 562h1v1h-1zM849 557h1v1h-1zM849 561h1v1h-1zM850 558h1v1h-1zM850 560h1v1h-1zM852 560h1v1h-1zM852 558h1v1h-1zM853 561h1v1h-1zM853 557h1v1h-1zM854 562h1v1h-1zM854 556h1v1h-1zM855 563h1v1h-1zM855 555h1v1h-1zM865 560h9v1h-9zM869 556h1v9h-1zM865 556h1v1h-1zM865 564h1v1h-1zM866 557h1v1h-1zM866 563h1v1h-1zM867 558h1v1h-1zM867 562h1v1h-1zM868 559h1v1h-1zM868 561h1v1h-1zM870 561h1v1h-1zM870 559h1v1h-1zM871 562h1v1h-1zM871 558h1v1h-1zM872 563h1v1h-1zM872 557h1v1h-1zM873 564h1v1h-1zM873 556h1v1h-1zM884 558h9v1h-9zM888 554h1v9h-1zM884 554h1v1h-1zM884 562h1v1h-1zM885 555h1v1h-1zM885 561h1v1h-1zM886 556h1v1h-1zM886 560h1v1h-1zM887 557h1v1h-1zM887 559h1v1h-1zM889 559h1v1h-1zM889 557h1v1h-1zM890 560h1v1h-1zM890 556h1v1h-1zM891 561h1v1h-1zM891 555h1v1h-1zM892 562h1v1h-1zM892 554h1v1h-1zM904 554h9v1h-9zM908 550h1v9h-1zM904 550h1v1h-1zM904 558h1v1h-1zM905 551h1v1h-1zM905 557h1v1h-1zM906 552h1v1h-1zM906 556h1v1h-1zM907 553h1v1h-1zM907 555h1v1h-1zM909 555h1v1h-1zM909 553h1v1h-1zM910 556h1v1h-1zM910 552h1v1h-1zM911 557h1v1h-1zM911 551h1v1h-1zM912 558h1v1h-1zM912 550h1v1h-1zM925 551h9v1h-9zM929 547h1v9h-1zM925 547h1v1h-1zM925 555h1v1h-1zM926 548h1v1h-1zM926 554h1v1h-1zM927 549h1v1h-1zM927 553h1v1h-1zM928 550h1v1h-1zM928 552h1v1h-1zM930 552h1v1h-1zM930 550h1v1h-1zM931 553h1v1h-1zM931 549h1v1h-1zM932 554h1v1h-1zM932 548h1v1h-1zM933 555h1v1h-1zM933 547h1v1h-1zM947 549h9v1h-9zM951 545h1v9h-1zM947 545h1v1h-1zM947 553h1v1h-1zM948 546h1v1h-1zM948 552h1v1h-1zM949 547h1v1h-1zM949 551h1v1h-1zM950 548h1v1h-1zM950 550h1v1h-1zM952 550h1v1h-1zM952 548h1v1h-1zM953 551h1v1h-1zM953 547h1v1h-1zM954 552h1v1h-1zM954 546h1v1h-1zM955 553h1v1h-1zM955 545h1v1h-1zM971 550h9v1h-9zM975 546h1v9h-1zM971 546h1v1h-1zM971 554h1v1h-1zM972 547h1v1h-1zM972 553h1v1h-1zM973 548h1v1h-1zM973 552h1v1h-1zM974 549h1v1h-1zM974 551h1v1h-1zM976 551h1v1h-1zM976 549h1v1h-1zM977 552h1v1h-1zM977 548h1v1h-1zM978 553h1v1h-1zM978 547h1v1h-1zM979 554h1v1h-1zM979 546h1v1h-1zM996 551h9v1h-9zM1000 547h1v9h-1zM996 547h1v1h-1zM996 555h1v1h-1zM997 548h1v1h-1zM997 554h1v1h-1zM998 549h1v1h-1zM998 553h1v1h-1zM999 550h1v1h-1zM999 552h1v1h-1zM1001 552h1v1h-1zM1001 550h1v1h-1zM1002 553h1v1h-1zM1002 549h1v1h-1zM1003 554h1v1h-1zM1003 548h1v1h-1zM1004 555h1v1h-1zM1004 547h1v1h-1zM1022 551h9v1h-9zM1026 547h1v9h-1zM1022 547h1v1h-1zM1022 555h1v1h-1zM1023 548h1v1h-1zM1023 554h1v1h-1zM1024 549h1v1h-1zM1024 553h1v1h-1zM1025 550h1v1h-1zM1025 552h1v1h-1zM1027 552h1v1h-1zM1027 550h1v1h-1zM1028 553h1v1h-1zM1028 549h1v1h-1zM1029 554h1v1h-1zM1029 548h1v1h-1zM1030 555h1v1h-1zM1030 547h1v1h-1zM1050 551h9v1h-9zM1054 547h1v9h-1zM1050 547h1v1h-1zM1050 555h1v1h-1zM1051 548h1v1h-1zM1051 554h1v1h-1zM1052 549h1v1h-1zM1052 553h1v1h-1zM1053 550h1v1h-1zM1053 552h1v1h-1zM1055 552h1v1h-1zM1055 550h1v1h-1zM1056 553h1v1h-1zM1056 549h1v1h-1zM1057 554h1v1h-1zM1057 548h1v1h-1zM1058 555h1v1h-1zM1058 547h1v1h-1zM1080 551h9v1h-9zM1084 547h1v9h-1zM1080 547h1v1h-1zM1080 555h1v1h-1zM1081 548h1v1h-1zM1081 554h1v1h-1zM1082 549h1v1h-1zM1082 553h1v1h-1zM1083 550h1v1h-1zM1083 552h1v1h-1zM1085 552h1v1h-1zM1085 550h1v1h-1zM1086 553h1v1h-1zM1086 549h1v1h-1zM1087 554h1v1h-1zM1087 548h1v1h-1zM1088 555h1v1h-1zM1088 547h1v1h-1z" fill="#000" shape-rendering="crispEdges"/>
<path d="M266 148h9v1h-9zM270 144h1v9h-1zM266 144h1v1h-1zM266 152h1v1h-1zM267 145h1v1h-1zM267 151h1v1h-1zM268 146h1v1h-1zM268 150h1v1h-1zM269 147h1v1h-1zM269 149h1v1h-1zM271 149h1v1h-1zM271 147h1v1h-1zM272 150h1v1h-1zM272 146h1v1h-1zM273 151h1v1h-1zM273 145h1v1h-1zM274 152h1v1h-1zM274 144h1v1h-1zM263 163h9v1h-9zM267 159h1v9h-1zM263 159h1v1h-1zM263 167h1v1h-1zM264 160h1v1h-1zM264 166h1v1h-1zM265 161h1v1h-1zM265 165h1v1h-1zM266 162h1v1h-1zM266 164h1v1h-1zM268 164h1v1h-1zM268 162h1v1h-1zM269 165h1v1h-1zM269 161h1v1h-1zM270 166h1v1h-1zM270 160h1v1h-1zM271 167h1v1h-1zM271 159h1v1h-1zM270 164h9v1h-9zM274 160h1v9h-1zM270 160h1v1h-1zM270 168h1v1h-1zM271 161h1v1h-1zM271 167h1v1h-1zM272 162h1v1h-1zM272 166h1v1h-1zM273 163h1v1h-1zM273 165h1v1h-1zM275 165h1v1h-1zM275 163h1v1h-1zM276 166h1v1h-1zM276 162h1v1h-1zM277 167h1v1h-1zM277 161h1v1h-1zM278 168h1v1h-1zM278 160h1v1h-1zM276 378h9v1h-9zM280 374h1v9h-1zM276 374h1v1h-1zM276 382h1v1h-1zM277 375h1v1h-1zM277 381h1v1h-1zM278 376h1v1h-1zM278 380h1v1h-1zM279 377h1v1h-1zM279 379h1v1h-1zM281 379h1v1h-1zM281 377h1v1h-1zM282 380h1v1h-1zM282 376h1v1h-1zM283 381h1v1h-1zM283 375h1v1h-1zM284 382h1v1h-1zM284 374h1v1h-1zM259 139h9v1h-9zM263 135h1v9h-1zM259 135h1v1h-1zM259 143h1v1h-1zM260 136h1v1h-1zM260 142h1v1h-1zM261 137h1v1h-1zM261 141h1v1h-1zM262 138h1v1h-1zM262 140h1v1h-1zM264 140h1v1h-1zM264 138h1v1h-1zM265 141h1v1h-1zM265 137h1v1h-1zM266 142h1v1h-1zM266 136h1v1h-1zM267 143h1v1h-1zM267 135h1v1h-1zM261 140h9v1h-9zM265 136h1v9h-1zM261 136h1v1h-1zM261 144h1v1h-1zM262 137h1v1h-1zM262 143h1v1h-1zM263 138h1v1h-1zM263 142h1v1h-1zM264 139h1v1h-1zM264 141h1v1h-1zM266 141h1v1h-1zM266 139h1v1h-1zM267 142h1v1h-1zM267 138h1v1h-1zM268 143h1v1h-1zM268 137h1v1h-1zM269 144h1v1h-1zM269 136h1v1h-1zM263 139h9v1h-9zM267 135h1v9h-1zM263 135h1v1h-1zM263 143h1v1h-1zM264 136h1v1h-1zM264 142h1v1h-1zM265 137h1v1h-1zM265 141h1v1h-1zM266 138h1v1h-1zM266 140h1v1h-1zM268 140h1v1h-1zM268 138h1v1h-1zM269 141h1v1h-1zM269 137h1v1h-1zM270 142h1v1h-1zM270 136h1v1h-1zM271 143h1v1h-1zM271 135h1v1h-1zM265 140h9v1h-9zM269 136h1v9h-1zM265 136h1v1h-1zM265 144h1v1h-1zM266 137h1v1h-1zM266 143h1v1h-1zM267 138h1v1h-1zM267 142h1v1h-1zM268 139h1v1h-1zM268 141h1v1h-1zM270 141h1v1h-1zM270 139h1v1h-1zM271 142h1v1h-1zM271 138h1v1h-1zM272 143h1v1h-1zM272 137h1v1h-1zM273 144h1v1h-1zM273 136h1v1h-1zM267 139h9v1h-9zM271 135h1v9h-1zM267 135h1v1h-1zM267 143h1v1h-1zM268 136h1v1h-1zM268 142h1v1h-1zM269 137h1v1h-1zM269 141h1v1h-1zM270 138h1v1h-1zM270 140h1v1h-1zM272 140h1v1h-1zM272 138h1v1h-1zM273 141h1v1h-1zM273 137h1v1h-1zM274 142h1v1h-1zM274 136h1v1h-1zM275 143h1v1h-1zM275 135h1v1h-1zM269 140h9v1h-9zM273 136h1v9h-1zM269 136h1v1h-1zM269 144h1v1h-1zM270 137h1v1h-1zM270 143h1v1h-1zM271 138h1v1h-1zM271 142h1v1h-1zM272 139h1v1h-1zM272 141h1v1h-1zM274 141h1v1h-1zM274 139h1v1h-1zM275 142h1v1h-1zM275 138h1v1h-1zM276 143h1v1h-1zM276 137h1v1h-1zM277 144h1v1h-1zM277 136h1v1h-1zM271 139h9v1h-9zM275 135h1v9h-1zM271 135h1v1h-1zM271 143h1v1h-1zM272 136h1v1h-1zM272 142h1v1h-1zM273 137h1v1h-1zM273 141h1v1h-1zM274 138h1v1h-1zM274 140h1v1h-1zM276 140h1v1h-1zM276 138h1v1h-1zM277 141h1v1h-1zM277 137h1v1h-1zM278 142h1v1h-1zM278 136h1v1h-1zM279 143h1v1h-1zM279 135h1v1h-1zM273 140h9v1h-9zM277 136h1v9h-1zM273 136h1v1h-1zM273 144h1v1h-1zM274 137h1v1h-1zM274 143h1v1h-1zM275 138h1v1h-1zM275 142h1v1h-1zM276 139h1v1h-1zM276 141h1v1h-1zM278 141h1v1h-1zM278 139h1v1h-1zM279 142h1v1h-1zM279 138h1v1h-1zM280 143h1v1h-1zM280 137h1v1h-1zM281 144h1v1h-1zM281 136h1v1h-1zM275 139h9v1h-9zM279 135h1v9h-1zM275 135h1v1h-1zM275 143h1v1h-1zM276 136h1v1h-1zM276 142h1v1h-1zM277 137h1v1h-1zM277 141h1v1h-1zM278 138h1v1h-1zM278 140h1v1h-1zM280 140h1v1h-1zM280 138h1v1h-1zM281 141h1v1h-1zM281 137h1v1h-1zM282 142h1v1h-1zM282 136h1v1h-1zM283 143h1v1h-1zM283 135h1v1h-1zM277 140h9v1h-9zM281 136h1v9h-1zM277 136h1v1h-1zM277 144h1v1h-1zM278 137h1v1h-1zM278 143h1v1h-1zM279 138h1v1h-1zM279 142h1v1h-1zM280 139h1v1h-1zM280 141h1v1h-1zM282 141h1v1h-1zM282 139h1v1h-1zM283 142h1v1h-1zM283 138h1v1h-1zM284 143h1v1h-1zM284 137h1v1h-1zM285 144h1v1h-1zM285 136h1v1h-1zM279 139h9v1h-9zM283 135h1v9h-1zM279 135h1v1h-1zM279 143h1v1h-1zM280 136h1v1h-1zM280 142h1v1h-1zM281 137h1v1h-1zM281 141h1v1h-1zM282 138h1v1h-1zM282 140h1v1h-1zM284 140h1v1h-1zM284 138h1v1h-1zM285 141h1v1h-1zM285 137h1v1h-1zM286 142h1v1h-1zM286 136h1v1h-1zM287 143h1v1h-1zM287 135h1v1h-1zM281 140h9v1h-9zM285 136h1v9h-1zM281 136h1v1h-1zM281 144h1v1h-1zM282 137h1v1h-1zM282 143h1v1h-1zM283 138h1v1h-1zM283 142h1v1h-1zM284 139h1v1h-1zM284 141h1v1h-1zM286 141h1v1h-1zM286 139h1v1h-1zM287 142h1v1h-1zM287 138h1v1h-1zM288 143h1v1h-1zM288 137h1v1h-1zM289 144h1v1h-1zM289 136h1v1h-1zM283 139h9v1h-9zM287 135h1v9h-1zM283 135h1v1h-1zM283 143h1v1h-1zM284 136h1v1h-1zM284 142h1v1h-1zM285 137h1v1h-1zM285 141h1v1h-1zM286 138h1v1h-1zM286 140h1v1h-1zM288 140h1v1h-1zM288 138h1v1h-1zM289 141h1v1h-1zM289 137h1v1h-1zM290 142h1v1h-1zM290 136h1v1h-1zM291 143h1v1h-1zM291 135h1v1h-1zM285 140h9v1h-9zM289 136h1v9h-1zM285 136h1v1h-1zM285 144h1v1h-1zM286 137h1v1h-1zM286 143h1v1h-1zM287 138h1v1h-1zM287 142h1v1h-1zM288 139h1v1h-1zM288 141h1v1h-1zM290 141h1v1h-1zM290 139h1v1h-1zM291 142h1v1h-1zM291 138h1v1h-1zM292 143h1v1h-1zM292 137h1v1h-1zM293 144h1v1h-1zM293 136h1v1h-1zM287 139h9v1h-9zM291 135h1v9h-1zM287 135h1v1h-1zM287 143h1v1h-1zM288 136h1v1h-1zM288 142h1v1h-1zM289 137h1v1h-1zM289 141h1v1h-1zM290 138h1v1h-1zM290 140h1v1h-1zM292 140h1v1h-1zM292 138h1v1h-1zM293 141h1v1h-1zM293 137h1v1h-1zM294 142h1v1h-1zM294 136h1v1h-1zM295 143h1v1h-1zM295 135h1v1h-1zM289 140h9v1h-9zM293 136h1v9h-1zM289 136h1v1h-1zM289 144h1v1h-1zM290 137h1v1h-1zM290 143h1v1h-1zM291 138h1v1h-1zM291 142h1v1h-1zM292 139h1v1h-1zM292 141h1v1h-1zM294 141h1v1h-1zM294 139h1v1h-1zM295 142h1v1h-1zM295 138h1v1h-1zM296 143h1v1h-1zM296 137h1v1h-1zM297 144h1v1h-1zM297 136h1v1h-1zM291 139h9v1h-9zM295 135h1v9h-1zM291 135h1v1h-1zM291 143h1v1h-1zM292 136h1v1h-1zM292 142h1v1h-1zM293 137h1v1h-1zM293 141h1v1h-1zM294 138h1v1h-1zM294 140h1v1h-1zM296 140h1v1h-1zM296 138h1v1h-1zM297 141h1v1h-1zM297 137h1v1h-1zM298 142h1v1h-1zM298 136h1v1h-1zM299 143h1v1h-1zM299 135h1v1h-1zM293 140h9v1h-9zM297 136h1v9h-1zM293 136h1v1h-1zM293 144h1v1h-1zM294 137h1v1h-1zM294 143h1v1h-1zM295 138h1v1h-1zM295 142h1v1h-1zM296 139h1v1h-1zM296 141h1v1h-1zM298 141h1v1h-1zM298 139h1v1h-1zM299 142h1v1h-1zM299 138h1v1h-1zM300 143h1v1h-1zM300 137h1v1h-1zM301 144h1v1h-1zM301 136h1v1h-1zM295 139h9v1h-9zM299 135h1v9h-1zM295 135h1v1h-1zM295 143h1v1h-1zM296 136h1v1h-1zM296 142h1v1h-1zM297 137h1v1h-1zM297 141h1v1h-1zM298 138h1v1h-1zM298 140h1v1h-1zM300 140h1v1h-1zM300 138h1v1h-1zM301 141h1v1h-1zM301 137h1v1h-1zM302 142h1v1h-1zM302 136h1v1h-1zM303 143h1v1h-1zM303 135h1v1h-1zM297 140h9v1h-9zM301 136h1v9h-1zM297 136h1v1h-1zM297 144h1v1h-1zM298 137h1v1h-1zM298 143h1v1h-1zM299 138h1v1h-1zM299 142h1v1h-1zM300 139h1v1h-1zM300 141h1v1h-1zM302 141h1v1h-1zM302 139h1v1h-1zM303 142h1v1h-1zM303 138h1v1h-1zM304 143h1v1h-1zM304 137h1v1h-1zM305 144h1v1h-1zM305 136h1v1h-1zM299 139h9v1h-9zM303 135h1v9h-1zM299 135h1v1h-1zM299 143h1v1h-1zM300 136h1v1h-1zM300 142h1v1h-1zM301 137h1v1h-1zM301 141h1v1h-1zM302 138h1v1h-1zM302 140h1v1h-1zM304 140h1v1h-1zM304 138h1v1h-1zM305 141h1v1h-1zM305 137h1v1h-1zM306 142h1v1h-1zM306 136h1v1h-1zM307 143h1v1h-1zM307 135h1v1h-1zM301 140h9v1h-9zM305 136h1v9h-1zM301 136h1v1h-1zM301 144h1v1h-1zM302 137h1v1h-1zM302 143h1v1h-1zM303 138h1v1h-1zM303 142h1v1h-1zM304 139h1v1h-1zM304 141h1v1h-1zM306 141h1v1h-1zM306 139h1v1h-1zM307 142h1v1h-1zM307 138h1v1h-1zM308 143h1v1h-1zM308 137h1v1h-1zM309 144h1v1h-1zM309 136h1v1h-1zM303 139h9v1h-9zM307 135h1v9h-1zM303 135h1v1h-1zM303 143h1v1h-1zM304 136h1v1h-1zM304 142h1v1h-1zM305 137h1v1h-1zM305 141h1v1h-1zM306 138h1v1h-1zM306 140h1v1h-1zM308 140h1v1h-1zM308 138h1v1h-1zM309 141h1v1h-1zM309 137h1v1h-1zM310 142h1v1h-1zM310 136h1v1h-1zM311 143h1v1h-1zM311 135h1v1h-1zM305 140h9v1h-9zM309 136h1v9h-1zM305 136h1v1h-1zM305 144h1v1h-1zM306 137h1v1h-1zM306 143h1v1h-1zM307 138h1v1h-1zM307 142h1v1h-1zM308 139h1v1h-1zM308 141h1v1h-1zM310 141h1v1h-1zM310 139h1v1h-1zM311 142h1v1h-1zM311 138h1v1h-1zM312 143h1v1h-1zM312 137h1v1h-1zM313 144h1v1h-1zM313 136h1v1h-1zM307 139h9v1h-9zM311 135h1v9h-1zM307 135h1v1h-1zM307 143h1v1h-1zM308 136h1v1h-1zM308 142h1v1h-1zM309 137h1v1h-1zM309 141h1v1h-1zM310 138h1v1h-1zM310 140h1v1h-1zM312 140h1v1h-1zM312 138h1v1h-1zM313 141h1v1h-1zM313 137h1v1h-1zM314 142h1v1h-1zM314 136h1v1h-1zM315 143h1v1h-1zM315 135h1v1h-1zM309 140h9v1h-9zM313 136h1v9h-1zM309 136h1v1h-1zM309 144h1v1h-1zM310 137h1v1h-1zM310 143h1v1h-1zM311 138h1v1h-1zM311 142h1v1h-1zM312 139h1v1h-1zM312 141h1v1h-1zM314 141h1v1h-1zM314 139h1v1h-1zM315 142h1v1h-1zM315 138h1v1h-1zM316 143h1v1h-1zM316 137h1v1h-1zM317 144h1v1h-1zM317 136h1v1h-1zM311 139h9v1h-9zM315 135h1v9h-1zM311 135h1v1h-1zM311 143h1v1h-1zM312 136h1v1h-1zM312 142h1v1h-1zM313 137h1v1h-1zM313 141h1v1h-1zM314 138h1v1h-1zM314 140h1v1h-1zM316 140h1v1h-1zM316 138h1v1h-1zM317 141h1v1h-1zM317 137h1v1h-1zM318 142h1v1h-1zM318 136h1v1h-1zM319 143h1v1h-1zM319 135h1v1h-1zM313 140h9v1h-9zM317 136h1v9h-1zM313 136h1v1h-1zM313 144h1v1h-1zM314 137h1v1h-1zM314 143h1v1h-1zM315 138h1v1h-1zM315 142h1v1h-1zM316 139h1v1h-1zM316 141h1v1h-1zM318 141h1v1h-1zM318 139h1v1h-1zM319 142h1v1h-1zM319 138h1v1h-1zM320 143h1v1h-1zM320 137h1v1h-1zM321 144h1v1h-1zM321 136h1v1h-1zM315 139h9v1h-9zM319 135h1v9h-1zM315 135h1v1h-1zM315 143h1v1h-1zM316 136h1v1h-1zM316 142h1v1h-1zM317 137h1v1h-1zM317 141h1v1h-1zM318 138h1v1h-1zM318 140h1v1h-1zM320 140h1v1h-1zM320 138h1v1h-1zM321 141h1v1h-1zM321 137h1v1h-1zM322 142h1v1h-1zM322 136h1v1h-1zM323 143h1v1h-1zM323 135h1v1h-1zM317 140h9v1h-9zM321 136h1v9h-1zM317 136h1v1h-1zM317 144h1v1h-1zM318 137h1v1h-1zM318 143h1v1h-1zM319 138h1v1h-1zM319 142h1v1h-1zM320 139h1v1h-1zM320 141h1v1h-1zM322 141h1v1h-1zM322 139h1v1h-1zM323 142h1v1h-1zM323 138h1v1h-1zM324 143h1v1h-1zM324 137h1v1h-1zM325 144h1v1h-1zM325 136h1v1h-1zM319 139h9v1h-9zM323 135h1v9h-1zM319 135h1v1h-1zM319 143h1v1h-1zM320 136h1v1h-1zM320 142h1v1h-1zM321 137h1v1h-1zM321 141h1v1h-1zM322 138h1v1h-1zM322 140h1v1h-1zM324 140h1v1h-1zM324 138h1v1h-1zM325 141h1v1h-1zM325 137h1v1h-1zM326 142h1v1h-1zM326 136h1v1h-1zM327 143h1v1h-1zM327 135h1v1h-1zM321 140h9v1h-9zM325 136h1v9h-1zM321 136h1v1h-1zM321 144h1v1h-1zM322 137h1v1h-1zM322 143h1v1h-1zM323 138h1v1h-1zM323 142h1v1h-1zM324 139h1v1h-1zM324 141h1v1h-1zM326 141h1v1h-1zM326 139h1v1h-1zM327 142h1v1h-1zM327 138h1v1h-1zM328 143h1v1h-1zM328 137h1v1h-1zM329 144h1v1h-1zM329 136h1v1h-1zM323 139h9v1h-9zM327 135h1v9h-1zM323 135h1v1h-1zM323 143h1v1h-1zM324 136h1v1h-1zM324 142h1v1h-1zM325 137h1v1h-1zM325 141h1v1h-1zM326 138h1v1h-1zM326 140h1v1h-1zM328 140h1v1h-1zM328 138h1v1h-1zM329 141h1v1h-1zM329 137h1v1h-1zM330 142h1v1h-1zM330 136h1v1h-1zM331 143h1v1h-1zM331 135h1v1h-1zM325 140h9v1h-9zM329 136h1v9h-1zM325 136h1v1h-1zM325 144h1v1h-1zM326 137h1v1h-1zM326 143h1v1h-1zM327 138h1v1h-1zM327 142h1v1h-1zM328 139h1v1h-1zM328 141h1v1h-1zM330 141h1v1h-1zM330 139h1v1h-1zM331 142h1v1h-1zM331 138h1v1h-1zM332 143h1v1h-1zM332 137h1v1h-1zM333 144h1v1h-1zM333 136h1v1h-1zM327 139h9v1h-9zM331 135h1v9h-1zM327 135h1v1h-1zM327 143h1v1h-1zM328 136h1v1h-1zM328 142h1v1h-1zM329 137h1v1h-1zM329 141h1v1h-1zM330 138h1v1h-1zM330 140h1v1h-1zM332 140h1v1h-1zM332 138h1v1h-1zM333 141h1v1h-1zM333 137h1v1h-1zM334 142h1v1h-1zM334 136h1v1h-1zM335 143h1v1h-1zM335 135h1v1h-1zM329 140h9v1h-9zM333 136h1v9h-1zM329 136h1v1h-1zM329 144h1v1h-1zM330 137h1v1h-1zM330 143h1v1h-1zM331 138h1v1h-1zM331 142h1v1h-1zM332 139h1v1h-1zM332 141h1v1h-1zM334 141h1v1h-1zM334 139h1v1h-1zM335 142h1v1h-1zM335 138h1v1h-1zM336 143h1v1h-1zM336 137h1v1h-1zM337 144h1v1h-1zM337 136h1v1h-1zM331 139h9v1h-9zM335 135h1v9h-1zM331 135h1v1h-1zM331 143h1v1h-1zM332 136h1v1h-1zM332 142h1v1h-1zM333 137h1v1h-1zM333 141h1v1h-1zM334 138h1v1h-1zM334 140h1v1h-1zM336 140h1v1h-1zM336 138h1v1h-1zM337 141h1v1h-1zM337 137h1v1h-1zM338 142h1v1h-1zM338 136h1v1h-1zM339 143h1v1h-1zM339 135h1v1h-1zM333 140h9v1h-9zM337 136h1v9h-1zM333 136h1v1h-1zM333 144h1v1h-1zM334 137h1v1h-1zM334 143h1v1h-1zM335 138h1v1h-1zM335 142h1v1h-1zM336 139h1v1h-1zM336 141h1v1h-1zM338 141h1v1h-1zM338 139h1v1h-1zM339 142h1v1h-1zM339 138h1v1h-1zM340 143h1v1h-1zM340 137h1v1h-1zM341 144h1v1h-1zM341 136h1v1h-1zM338 139h9v1h-9zM342 135h1v9h-1zM338 135h1v1h-1zM338 143h1v1h-1zM339 136h1v1h-1zM339 142h1v1h-1zM340 137h1v1h-1zM340 141h1v1h-1zM341 138h1v1h-1zM341 140h1v1h-1zM343 140h1v1h-1zM343 138h1v1h-1zM344 141h1v1h-1zM344 137h1v1h-1zM345 142h1v1h-1zM345 136h1v1h-1zM346 143h1v1h-1zM346 135h1v1h-1zM343 140h9v1h-9zM347 136h1v9h-1zM343 136h1v1h-1zM343 144h1v1h-1zM344 137h1v1h-1zM344 143h1v1h-1zM345 138h1v1h-1zM345 142h1v1h-1zM346 139h1v1h-1zM346 141h1v1h-1zM348 141h1v1h-1zM348 139h1v1h-1zM349 142h1v1h-1zM349 138h1v1h-1zM350 143h1v1h-1zM350 137h1v1h-1zM351 144h1v1h-1zM351 136h1v1h-1zM348 139h9v1h-9zM352 135h1v9h-1zM348 135h1v1h-1zM348 143h1v1h-1zM349 136h1v1h-1zM349 142h1v1h-1zM350 137h1v1h-1zM350 141h1v1h-1zM351 138h1v1h-1zM351 140h1v1h-1zM353 140h1v1h-1zM353 138h1v1h-1zM354 141h1v1h-1zM354 137h1v1h-1zM355 142h1v1h-1zM355 136h1v1h-1zM356 143h1v1h-1zM356 135h1v1h-1zM354 140h9v1h-9zM358 136h1v9h-1zM354 136h1v1h-1zM354 144h1v1h-1zM355 137h1v1h-1zM355 143h1v1h-1zM356 138h1v1h-1zM356 142h1v1h-1zM357 139h1v1h-1zM357 141h1v1h-1zM359 141h1v1h-1zM359 139h1v1h-1zM360 142h1v1h-1zM360 138h1v1h-1zM361 143h1v1h-1zM361 137h1v1h-1zM362 144h1v1h-1zM362 136h1v1h-1z" fill="#00b000" shape-rendering="crispEdges"/>
</svg></body></html>
